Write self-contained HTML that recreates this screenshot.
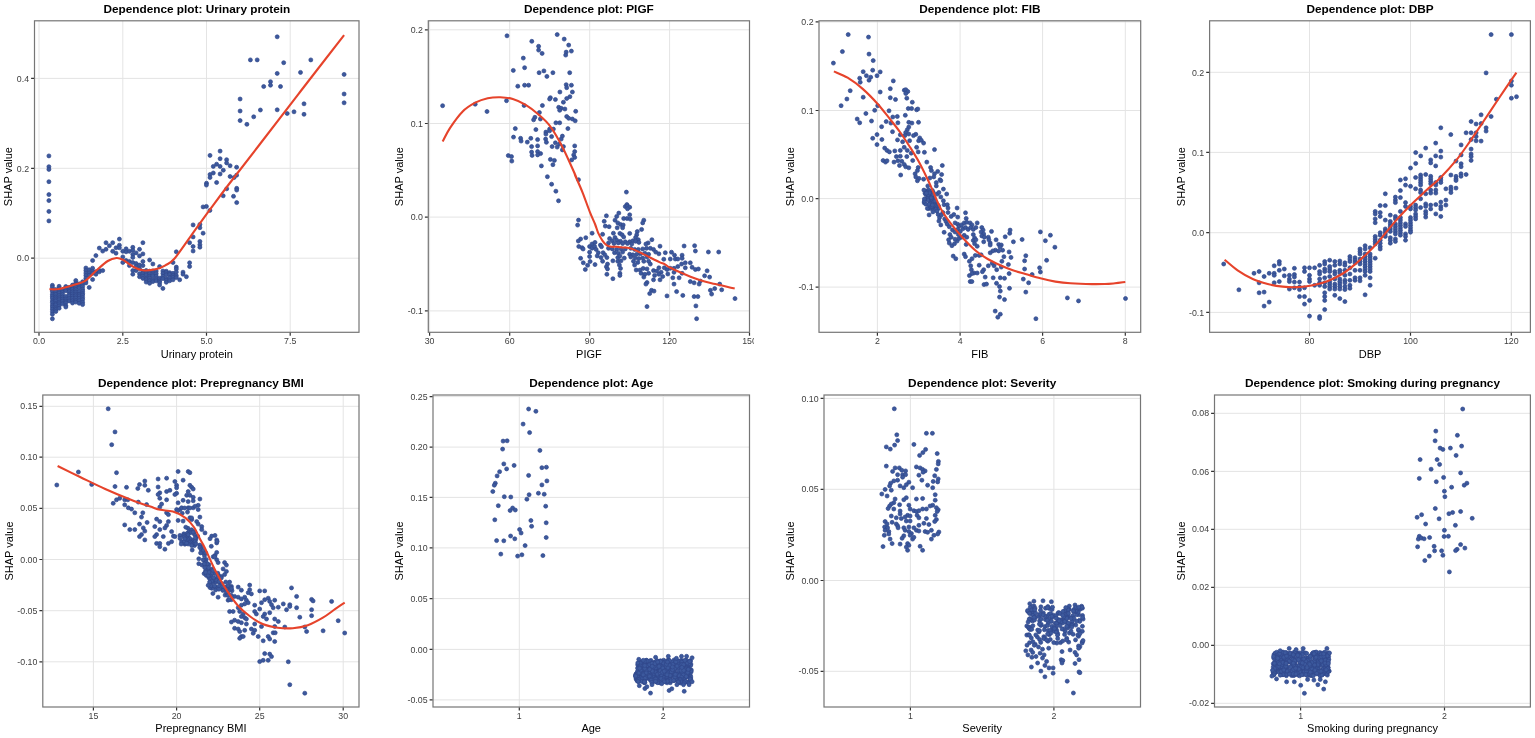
<!DOCTYPE html>
<html lang="en"><head><meta charset="utf-8"><title>SHAP dependence plots</title>
<style>
html,body{margin:0;padding:0;background:#fff}
svg{display:block}
.t{font-family:"Liberation Sans",Arial,sans-serif;font-weight:bold;font-size:11.8px;fill:#000;text-anchor:middle}
.a{font-family:"Liberation Sans",Arial,sans-serif;font-size:11px;fill:#000;text-anchor:middle}
.k{font-family:"Liberation Sans",Arial,sans-serif;font-size:8.8px;fill:#404040}
.g{stroke:#e4e4e4;stroke-width:1;fill:none}
.f{stroke:#767676;stroke-width:1.2;fill:none}
.m{stroke:#333;stroke-width:1.2;fill:none}
.p{fill:#3c599d;stroke:#31488b;stroke-width:.7}
.c{stroke:#e6432b;stroke-width:2.1;fill:none;stroke-linecap:butt;stroke-linejoin:round}
</style></head>
<body>
<svg width="1535" height="738" viewBox="0 0 1535 738">
<rect width="1535" height="738" fill="#fff"/>
<defs><clipPath id="cp"><rect x="0" y="0" width="754" height="738"/></clipPath></defs>
<g id="panel1">
<text class="t" x="196.8" y="12.6">Dependence plot: Urinary protein</text>
<path class="g" d="M39.0 20.8V332.3M122.8 20.8V332.3M206.5 20.8V332.3M290.2 20.8V332.3M34.5 78.4H359.0M34.5 168.3H359.0M34.5 258.2H359.0"/>
<g class="p"><circle cx="48.9" cy="155.9" r="2"/><circle cx="48.9" cy="166.7" r="2"/><circle cx="48.9" cy="169.4" r="2"/><circle cx="48.9" cy="181.7" r="2"/><circle cx="277.2" cy="36.8" r="2"/><circle cx="250.4" cy="59.9" r="2"/><circle cx="257.2" cy="59.9" r="2"/><circle cx="283.7" cy="62.7" r="2"/><circle cx="310.8" cy="59.9" r="2"/><circle cx="277.2" cy="73.4" r="2"/><circle cx="300.5" cy="72.4" r="2"/><circle cx="344.1" cy="74.4" r="2"/><circle cx="270.5" cy="81.7" r="2"/><circle cx="270.5" cy="85.2" r="2"/><circle cx="263.7" cy="86.5" r="2"/><circle cx="280.5" cy="86.5" r="2"/><circle cx="344.1" cy="94.0" r="2"/><circle cx="344.1" cy="102.8" r="2"/><circle cx="240.1" cy="99.0" r="2"/><circle cx="304.0" cy="103.8" r="2"/><circle cx="240.1" cy="111.0" r="2"/><circle cx="260.4" cy="110.0" r="2"/><circle cx="277.2" cy="109.8" r="2"/><circle cx="287.2" cy="113.5" r="2"/><circle cx="294.0" cy="111.8" r="2"/><circle cx="304.0" cy="114.3" r="2"/><circle cx="253.7" cy="116.8" r="2"/><circle cx="240.1" cy="120.6" r="2"/><circle cx="246.9" cy="124.3" r="2"/><circle cx="220.1" cy="151.1" r="2"/><circle cx="210.0" cy="155.4" r="2"/><circle cx="220.1" cy="158.7" r="2"/><circle cx="226.6" cy="159.7" r="2"/><circle cx="216.6" cy="164.2" r="2"/><circle cx="213.3" cy="166.4" r="2"/><circle cx="220.1" cy="166.4" r="2"/><circle cx="226.6" cy="162.9" r="2"/><circle cx="230.1" cy="165.7" r="2"/><circle cx="236.6" cy="167.2" r="2"/><circle cx="223.3" cy="170.2" r="2"/><circle cx="213.3" cy="173.0" r="2"/><circle cx="210.0" cy="174.5" r="2"/><circle cx="220.1" cy="174.0" r="2"/><circle cx="230.1" cy="176.5" r="2"/><circle cx="236.6" cy="175.2" r="2"/><circle cx="210.0" cy="177.5" r="2"/><circle cx="234.1" cy="177.5" r="2"/><circle cx="216.6" cy="182.5" r="2"/><circle cx="206.5" cy="183.2" r="2"/><circle cx="48.9" cy="194.6" r="2"/><circle cx="48.9" cy="200.6" r="2"/><circle cx="48.9" cy="211.4" r="2"/><circle cx="48.9" cy="220.9" r="2"/><circle cx="52.4" cy="285.3" r="2"/><circle cx="52.4" cy="287.3" r="2"/><circle cx="52.4" cy="290.0" r="2"/><circle cx="52.4" cy="291.6" r="2"/><circle cx="52.4" cy="294.3" r="2"/><circle cx="52.4" cy="296.3" r="2"/><circle cx="52.4" cy="298.2" r="2"/><circle cx="52.4" cy="300.8" r="2"/><circle cx="52.4" cy="302.6" r="2"/><circle cx="52.4" cy="305.1" r="2"/><circle cx="52.4" cy="307.0" r="2"/><circle cx="52.4" cy="309.2" r="2"/><circle cx="52.4" cy="311.7" r="2"/><circle cx="52.4" cy="314.3" r="2"/><circle cx="52.4" cy="318.8" r="2"/><circle cx="55.8" cy="289.6" r="2"/><circle cx="55.8" cy="291.8" r="2"/><circle cx="55.8" cy="294.4" r="2"/><circle cx="55.8" cy="296.9" r="2"/><circle cx="55.8" cy="298.8" r="2"/><circle cx="55.8" cy="300.8" r="2"/><circle cx="55.8" cy="303.6" r="2"/><circle cx="55.8" cy="304.8" r="2"/><circle cx="55.8" cy="307.8" r="2"/><circle cx="55.8" cy="309.5" r="2"/><circle cx="55.8" cy="311.5" r="2"/><circle cx="59.1" cy="286.3" r="2"/><circle cx="59.1" cy="288.7" r="2"/><circle cx="59.1" cy="291.4" r="2"/><circle cx="59.1" cy="292.9" r="2"/><circle cx="59.1" cy="295.5" r="2"/><circle cx="59.1" cy="297.8" r="2"/><circle cx="59.1" cy="299.7" r="2"/><circle cx="59.1" cy="302.1" r="2"/><circle cx="59.1" cy="303.8" r="2"/><circle cx="59.1" cy="306.0" r="2"/><circle cx="59.1" cy="308.3" r="2"/><circle cx="62.5" cy="290.5" r="2"/><circle cx="62.5" cy="292.4" r="2"/><circle cx="62.5" cy="294.5" r="2"/><circle cx="62.5" cy="297.0" r="2"/><circle cx="62.5" cy="299.1" r="2"/><circle cx="62.5" cy="301.1" r="2"/><circle cx="62.5" cy="303.8" r="2"/><circle cx="65.8" cy="286.5" r="2"/><circle cx="65.8" cy="288.2" r="2"/><circle cx="65.8" cy="290.7" r="2"/><circle cx="65.8" cy="296.4" r="2"/><circle cx="65.8" cy="299.0" r="2"/><circle cx="65.8" cy="301.0" r="2"/><circle cx="65.8" cy="302.8" r="2"/><circle cx="65.8" cy="305.7" r="2"/><circle cx="65.8" cy="307.0" r="2"/><circle cx="69.2" cy="287.4" r="2"/><circle cx="69.2" cy="289.9" r="2"/><circle cx="69.2" cy="291.5" r="2"/><circle cx="69.2" cy="294.1" r="2"/><circle cx="69.2" cy="295.8" r="2"/><circle cx="69.2" cy="298.6" r="2"/><circle cx="69.2" cy="300.9" r="2"/><circle cx="72.5" cy="285.1" r="2"/><circle cx="72.5" cy="287.6" r="2"/><circle cx="72.5" cy="289.2" r="2"/><circle cx="72.5" cy="291.8" r="2"/><circle cx="72.5" cy="293.9" r="2"/><circle cx="72.5" cy="296.1" r="2"/><circle cx="72.5" cy="298.2" r="2"/><circle cx="72.5" cy="300.7" r="2"/><circle cx="72.5" cy="303.0" r="2"/><circle cx="75.8" cy="280.5" r="2"/><circle cx="75.8" cy="282.9" r="2"/><circle cx="75.8" cy="284.5" r="2"/><circle cx="75.8" cy="287.4" r="2"/><circle cx="75.8" cy="289.5" r="2"/><circle cx="75.8" cy="292.0" r="2"/><circle cx="75.8" cy="294.1" r="2"/><circle cx="75.8" cy="295.7" r="2"/><circle cx="75.8" cy="298.0" r="2"/><circle cx="75.8" cy="300.5" r="2"/><circle cx="75.8" cy="302.1" r="2"/><circle cx="79.2" cy="283.8" r="2"/><circle cx="79.2" cy="285.7" r="2"/><circle cx="79.2" cy="287.8" r="2"/><circle cx="79.2" cy="291.5" r="2"/><circle cx="79.2" cy="294.4" r="2"/><circle cx="79.2" cy="296.0" r="2"/><circle cx="79.2" cy="298.3" r="2"/><circle cx="79.2" cy="300.6" r="2"/><circle cx="79.2" cy="303.3" r="2"/><circle cx="82.6" cy="281.8" r="2"/><circle cx="82.6" cy="284.3" r="2"/><circle cx="82.6" cy="286.6" r="2"/><circle cx="82.6" cy="289.2" r="2"/><circle cx="82.6" cy="291.3" r="2"/><circle cx="82.6" cy="293.5" r="2"/><circle cx="82.6" cy="295.1" r="2"/><circle cx="82.6" cy="297.5" r="2"/><circle cx="82.6" cy="299.6" r="2"/><circle cx="82.6" cy="302.3" r="2"/><circle cx="82.6" cy="304.6" r="2"/><circle cx="85.9" cy="268.0" r="2"/><circle cx="85.9" cy="270.5" r="2"/><circle cx="85.9" cy="273.1" r="2"/><circle cx="85.9" cy="275.5" r="2"/><circle cx="85.9" cy="278.3" r="2"/><circle cx="85.9" cy="280.9" r="2"/><circle cx="85.9" cy="282.9" r="2"/><circle cx="89.2" cy="269.8" r="2"/><circle cx="89.2" cy="273.0" r="2"/><circle cx="89.2" cy="275.3" r="2"/><circle cx="89.2" cy="287.4" r="2"/><circle cx="92.6" cy="260.5" r="2"/><circle cx="92.6" cy="268.2" r="2"/><circle cx="92.6" cy="271.3" r="2"/><circle cx="92.6" cy="273.3" r="2"/><circle cx="92.6" cy="279.5" r="2"/><circle cx="95.9" cy="255.6" r="2"/><circle cx="95.9" cy="271.7" r="2"/><circle cx="95.9" cy="274.3" r="2"/><circle cx="99.3" cy="248.1" r="2"/><circle cx="99.3" cy="270.4" r="2"/><circle cx="99.3" cy="271.8" r="2"/><circle cx="102.7" cy="251.1" r="2"/><circle cx="102.7" cy="270.6" r="2"/><circle cx="106.0" cy="242.7" r="2"/><circle cx="106.0" cy="249.3" r="2"/><circle cx="109.4" cy="245.7" r="2"/><circle cx="112.7" cy="242.7" r="2"/><circle cx="112.7" cy="251.3" r="2"/><circle cx="116.0" cy="247.8" r="2"/><circle cx="116.0" cy="253.2" r="2"/><circle cx="119.4" cy="239.1" r="2"/><circle cx="119.4" cy="245.2" r="2"/><circle cx="119.4" cy="247.8" r="2"/><circle cx="122.8" cy="251.3" r="2"/><circle cx="122.8" cy="256.9" r="2"/><circle cx="122.8" cy="262.5" r="2"/><circle cx="126.1" cy="248.8" r="2"/><circle cx="126.1" cy="251.8" r="2"/><circle cx="126.1" cy="260.5" r="2"/><circle cx="129.4" cy="251.3" r="2"/><circle cx="129.4" cy="261.5" r="2"/><circle cx="129.4" cy="265.6" r="2"/><circle cx="132.8" cy="247.3" r="2"/><circle cx="132.8" cy="250.3" r="2"/><circle cx="132.8" cy="254.4" r="2"/><circle cx="132.8" cy="257.4" r="2"/><circle cx="132.8" cy="262.5" r="2"/><circle cx="132.8" cy="270.6" r="2"/><circle cx="132.8" cy="274.2" r="2"/><circle cx="136.1" cy="252.9" r="2"/><circle cx="136.1" cy="263.5" r="2"/><circle cx="136.1" cy="266.6" r="2"/><circle cx="136.1" cy="270.6" r="2"/><circle cx="139.5" cy="249.3" r="2"/><circle cx="139.5" cy="255.9" r="2"/><circle cx="139.5" cy="265.1" r="2"/><circle cx="139.5" cy="268.6" r="2"/><circle cx="139.5" cy="273.7" r="2"/><circle cx="139.5" cy="276.7" r="2"/><circle cx="142.9" cy="242.7" r="2"/><circle cx="142.9" cy="253.9" r="2"/><circle cx="142.9" cy="261.5" r="2"/><circle cx="142.9" cy="265.6" r="2"/><circle cx="142.9" cy="271.3" r="2"/><circle cx="142.9" cy="273.5" r="2"/><circle cx="142.9" cy="276.1" r="2"/><circle cx="142.9" cy="278.4" r="2"/><circle cx="146.2" cy="270.5" r="2"/><circle cx="146.2" cy="272.9" r="2"/><circle cx="146.2" cy="274.9" r="2"/><circle cx="146.2" cy="278.2" r="2"/><circle cx="146.2" cy="279.7" r="2"/><circle cx="146.2" cy="282.1" r="2"/><circle cx="149.6" cy="260.0" r="2"/><circle cx="149.6" cy="271.2" r="2"/><circle cx="149.6" cy="273.5" r="2"/><circle cx="149.6" cy="276.3" r="2"/><circle cx="149.6" cy="278.2" r="2"/><circle cx="149.6" cy="280.6" r="2"/><circle cx="149.6" cy="283.3" r="2"/><circle cx="152.9" cy="264.0" r="2"/><circle cx="152.9" cy="271.0" r="2"/><circle cx="152.9" cy="273.9" r="2"/><circle cx="152.9" cy="275.8" r="2"/><circle cx="152.9" cy="279.6" r="2"/><circle cx="152.9" cy="281.6" r="2"/><circle cx="156.2" cy="271.1" r="2"/><circle cx="156.2" cy="273.7" r="2"/><circle cx="156.2" cy="276.3" r="2"/><circle cx="156.2" cy="278.8" r="2"/><circle cx="156.2" cy="280.8" r="2"/><circle cx="159.6" cy="266.6" r="2"/><circle cx="159.6" cy="278.3" r="2"/><circle cx="159.6" cy="281.0" r="2"/><circle cx="159.6" cy="282.6" r="2"/><circle cx="159.6" cy="285.0" r="2"/><circle cx="162.9" cy="271.0" r="2"/><circle cx="162.9" cy="273.5" r="2"/><circle cx="162.9" cy="276.3" r="2"/><circle cx="162.9" cy="278.6" r="2"/><circle cx="162.9" cy="288.4" r="2"/><circle cx="166.3" cy="271.2" r="2"/><circle cx="166.3" cy="272.5" r="2"/><circle cx="166.3" cy="274.7" r="2"/><circle cx="166.3" cy="278.7" r="2"/><circle cx="166.3" cy="280.4" r="2"/><circle cx="166.3" cy="282.3" r="2"/><circle cx="169.7" cy="272.7" r="2"/><circle cx="169.7" cy="274.3" r="2"/><circle cx="169.7" cy="277.6" r="2"/><circle cx="169.7" cy="280.8" r="2"/><circle cx="173.0" cy="262.5" r="2"/><circle cx="173.0" cy="273.3" r="2"/><circle cx="173.0" cy="275.4" r="2"/><circle cx="173.0" cy="277.2" r="2"/><circle cx="173.0" cy="279.8" r="2"/><circle cx="176.3" cy="251.8" r="2"/><circle cx="176.3" cy="267.1" r="2"/><circle cx="176.3" cy="269.1" r="2"/><circle cx="176.3" cy="272.1" r="2"/><circle cx="176.3" cy="275.6" r="2"/><circle cx="176.3" cy="277.6" r="2"/><circle cx="179.7" cy="279.8" r="2"/><circle cx="183.0" cy="272.2" r="2"/><circle cx="183.0" cy="274.2" r="2"/><circle cx="186.4" cy="276.7" r="2"/><circle cx="189.6" cy="262.8" r="2"/><circle cx="189.6" cy="266.5" r="2"/><circle cx="189.6" cy="242.7" r="2"/><circle cx="193.1" cy="246.5" r="2"/><circle cx="193.1" cy="251.0" r="2"/><circle cx="193.1" cy="236.9" r="2"/><circle cx="193.1" cy="224.9" r="2"/><circle cx="199.9" cy="224.4" r="2"/><circle cx="199.9" cy="227.7" r="2"/><circle cx="203.1" cy="233.2" r="2"/><circle cx="199.9" cy="241.4" r="2"/><circle cx="199.9" cy="244.7" r="2"/><circle cx="199.9" cy="247.2" r="2"/><circle cx="203.1" cy="206.9" r="2"/><circle cx="206.4" cy="206.4" r="2"/><circle cx="209.9" cy="210.4" r="2"/><circle cx="206.4" cy="185.1" r="2"/><circle cx="223.2" cy="195.8" r="2"/><circle cx="226.7" cy="188.8" r="2"/><circle cx="233.5" cy="196.3" r="2"/><circle cx="236.7" cy="188.3" r="2"/><circle cx="236.7" cy="190.1" r="2"/><circle cx="236.7" cy="202.6" r="2"/></g>
<path class="c" d="M49.4 289.3 C51.0 289.2 55.0 289.7 58.9 289.0 C62.8 288.3 68.3 286.7 72.7 285.3 C77.1 283.9 81.2 283.3 85.2 280.8 C89.2 278.3 92.7 273.6 96.5 270.3 C100.3 267.0 104.5 263.1 107.8 261.0 C111.1 258.9 114.0 258.2 116.5 258.0 C119.0 257.8 120.1 258.3 122.8 259.7 C125.5 261.1 129.5 264.7 132.8 266.5 C136.2 268.3 139.1 269.8 142.9 270.3 C146.7 270.8 151.7 270.1 155.4 269.3 C159.2 268.5 162.2 267.2 165.4 265.3 C168.6 263.4 170.4 263.3 174.8 258.2 C179.2 253.0 186.2 242.5 192.0 234.4 C197.8 226.3 203.8 217.8 209.9 209.6 C216.0 201.4 220.0 195.9 228.3 185.0 C236.7 174.1 248.1 159.5 260.0 144.0 C271.9 128.5 286.0 110.2 300.0 92.0 C314.0 73.8 336.8 44.6 344.1 35.1"/>
<rect class="f" x="34.5" y="20.8" width="324.5" height="311.5"/>
<path class="m" d="M39.0 332.8v2.9M122.8 332.8v2.9M206.5 332.8v2.9M290.2 332.8v2.9M34.0 78.4h-2.9M34.0 168.3h-2.9M34.0 258.2h-2.9"/>
<text class="k" text-anchor="middle" x="39.0" y="344.2">0.0</text>
<text class="k" text-anchor="middle" x="122.8" y="344.2">2.5</text>
<text class="k" text-anchor="middle" x="206.5" y="344.2">5.0</text>
<text class="k" text-anchor="middle" x="290.2" y="344.2">7.5</text>
<text class="k" text-anchor="end" x="29.1" y="81.6">0.4</text>
<text class="k" text-anchor="end" x="29.1" y="171.5">0.2</text>
<text class="k" text-anchor="end" x="29.1" y="261.3">0.0</text>
<text class="a" x="196.8" y="357.5">Urinary protein</text>
<text class="a" transform="translate(12.4 176.6) rotate(-90)">SHAP value</text>
</g>
<g id="panel2">
<text class="t" x="588.9" y="12.6">Dependence plot: PIGF</text>
<path class="g" d="M429.6 20.8V332.3M509.7 20.8V332.3M589.7 20.8V332.3M669.6 20.8V332.3M428.3 29.8H749.5M428.3 123.5H749.5M428.3 217.1H749.5M428.3 310.9H749.5"/>
<g class="p"><circle cx="442.6" cy="105.7" r="2"/><circle cx="475.2" cy="104.2" r="2"/><circle cx="487.0" cy="111.5" r="2"/><circle cx="507.0" cy="35.8" r="2"/><circle cx="506.5" cy="100.7" r="2"/><circle cx="513.3" cy="70.4" r="2"/><circle cx="517.8" cy="86.2" r="2"/><circle cx="523.3" cy="58.1" r="2"/><circle cx="524.6" cy="67.7" r="2"/><circle cx="524.6" cy="85.2" r="2"/><circle cx="528.6" cy="85.2" r="2"/><circle cx="524.1" cy="105.5" r="2"/><circle cx="531.8" cy="41.3" r="2"/><circle cx="538.6" cy="46.3" r="2"/><circle cx="538.6" cy="50.1" r="2"/><circle cx="542.1" cy="53.4" r="2"/><circle cx="539.1" cy="72.7" r="2"/><circle cx="543.9" cy="70.9" r="2"/><circle cx="546.9" cy="76.4" r="2"/><circle cx="552.9" cy="72.7" r="2"/><circle cx="557.2" cy="34.6" r="2"/><circle cx="564.2" cy="39.1" r="2"/><circle cx="568.7" cy="45.1" r="2"/><circle cx="571.4" cy="51.1" r="2"/><circle cx="566.2" cy="52.1" r="2"/><circle cx="565.7" cy="55.1" r="2"/><circle cx="569.7" cy="72.7" r="2"/><circle cx="566.2" cy="84.7" r="2"/><circle cx="571.4" cy="85.2" r="2"/><circle cx="566.7" cy="87.7" r="2"/><circle cx="559.9" cy="92.0" r="2"/><circle cx="572.4" cy="92.0" r="2"/><circle cx="569.9" cy="96.7" r="2"/><circle cx="566.7" cy="98.5" r="2"/><circle cx="563.4" cy="102.2" r="2"/><circle cx="550.4" cy="97.7" r="2"/><circle cx="549.6" cy="99.0" r="2"/><circle cx="555.4" cy="99.5" r="2"/><circle cx="542.4" cy="105.5" r="2"/><circle cx="558.7" cy="107.3" r="2"/><circle cx="561.2" cy="108.3" r="2"/><circle cx="559.7" cy="110.3" r="2"/><circle cx="564.9" cy="109.0" r="2"/><circle cx="575.7" cy="111.3" r="2"/><circle cx="539.4" cy="112.5" r="2"/><circle cx="534.9" cy="117.3" r="2"/><circle cx="533.6" cy="119.8" r="2"/><circle cx="540.4" cy="119.0" r="2"/><circle cx="566.7" cy="116.5" r="2"/><circle cx="568.7" cy="118.3" r="2"/><circle cx="572.4" cy="119.0" r="2"/><circle cx="575.2" cy="120.8" r="2"/><circle cx="555.9" cy="122.8" r="2"/><circle cx="559.7" cy="122.8" r="2"/><circle cx="515.3" cy="128.6" r="2"/><circle cx="535.9" cy="129.6" r="2"/><circle cx="549.6" cy="129.1" r="2"/><circle cx="553.4" cy="129.1" r="2"/><circle cx="567.9" cy="128.6" r="2"/><circle cx="513.5" cy="137.1" r="2"/><circle cx="520.6" cy="138.3" r="2"/><circle cx="521.1" cy="141.1" r="2"/><circle cx="527.3" cy="142.1" r="2"/><circle cx="530.8" cy="138.3" r="2"/><circle cx="537.6" cy="139.6" r="2"/><circle cx="545.9" cy="132.1" r="2"/><circle cx="545.9" cy="134.1" r="2"/><circle cx="549.6" cy="130.8" r="2"/><circle cx="551.6" cy="136.6" r="2"/><circle cx="562.4" cy="136.1" r="2"/><circle cx="561.2" cy="139.1" r="2"/><circle cx="545.6" cy="139.1" r="2"/><circle cx="546.4" cy="142.3" r="2"/><circle cx="555.4" cy="142.8" r="2"/><circle cx="559.4" cy="144.1" r="2"/><circle cx="531.6" cy="146.6" r="2"/><circle cx="537.6" cy="145.9" r="2"/><circle cx="552.1" cy="146.6" r="2"/><circle cx="557.2" cy="147.1" r="2"/><circle cx="563.4" cy="146.6" r="2"/><circle cx="574.7" cy="145.9" r="2"/><circle cx="562.4" cy="149.9" r="2"/><circle cx="531.6" cy="152.1" r="2"/><circle cx="537.6" cy="151.6" r="2"/><circle cx="540.6" cy="153.6" r="2"/><circle cx="532.1" cy="155.4" r="2"/><circle cx="537.6" cy="154.9" r="2"/><circle cx="574.7" cy="151.6" r="2"/><circle cx="573.7" cy="154.9" r="2"/><circle cx="574.7" cy="157.4" r="2"/><circle cx="571.7" cy="159.9" r="2"/><circle cx="508.3" cy="155.6" r="2"/><circle cx="511.5" cy="156.6" r="2"/><circle cx="511.8" cy="161.1" r="2"/><circle cx="550.4" cy="159.4" r="2"/><circle cx="554.4" cy="160.4" r="2"/><circle cx="552.9" cy="164.7" r="2"/><circle cx="541.4" cy="165.9" r="2"/><circle cx="547.4" cy="176.7" r="2"/><circle cx="551.6" cy="184.2" r="2"/><circle cx="555.9" cy="191.2" r="2"/><circle cx="578.5" cy="179.7" r="2"/><circle cx="558.5" cy="200.8" r="2"/><circle cx="578.5" cy="220.1" r="2"/><circle cx="577.6" cy="225.1" r="2"/><circle cx="585.8" cy="237.7" r="2"/><circle cx="580.6" cy="239.0" r="2"/><circle cx="578.3" cy="241.0" r="2"/><circle cx="578.8" cy="246.5" r="2"/><circle cx="582.1" cy="247.7" r="2"/><circle cx="583.1" cy="249.0" r="2"/><circle cx="580.6" cy="258.3" r="2"/><circle cx="583.3" cy="262.8" r="2"/><circle cx="585.3" cy="269.5" r="2"/><circle cx="587.6" cy="265.3" r="2"/><circle cx="590.1" cy="261.5" r="2"/><circle cx="592.1" cy="233.2" r="2"/><circle cx="592.1" cy="244.0" r="2"/><circle cx="589.6" cy="246.5" r="2"/><circle cx="592.1" cy="248.2" r="2"/><circle cx="594.6" cy="246.5" r="2"/><circle cx="589.6" cy="252.2" r="2"/><circle cx="589.6" cy="256.5" r="2"/><circle cx="626.4" cy="192.1" r="2"/><circle cx="626.9" cy="204.6" r="2"/><circle cx="665.3" cy="252.7" r="2"/><circle cx="671.5" cy="252.2" r="2"/><circle cx="674.5" cy="255.2" r="2"/><circle cx="682.1" cy="255.2" r="2"/><circle cx="684.1" cy="246.0" r="2"/><circle cx="694.6" cy="245.7" r="2"/><circle cx="695.4" cy="251.0" r="2"/><circle cx="708.4" cy="252.0" r="2"/><circle cx="718.7" cy="252.0" r="2"/><circle cx="670.3" cy="259.0" r="2"/><circle cx="675.3" cy="259.0" r="2"/><circle cx="677.8" cy="259.0" r="2"/><circle cx="682.1" cy="258.3" r="2"/><circle cx="685.3" cy="262.8" r="2"/><circle cx="690.3" cy="262.8" r="2"/><circle cx="681.6" cy="264.0" r="2"/><circle cx="677.8" cy="266.5" r="2"/><circle cx="667.0" cy="269.5" r="2"/><circle cx="670.3" cy="268.3" r="2"/><circle cx="674.0" cy="268.3" r="2"/><circle cx="685.3" cy="267.8" r="2"/><circle cx="692.1" cy="267.3" r="2"/><circle cx="695.4" cy="269.5" r="2"/><circle cx="698.4" cy="269.0" r="2"/><circle cx="707.1" cy="270.8" r="2"/><circle cx="667.8" cy="274.0" r="2"/><circle cx="674.0" cy="272.3" r="2"/><circle cx="682.1" cy="273.3" r="2"/><circle cx="672.8" cy="277.8" r="2"/><circle cx="679.1" cy="277.8" r="2"/><circle cx="704.6" cy="275.8" r="2"/><circle cx="709.6" cy="277.1" r="2"/><circle cx="674.0" cy="284.1" r="2"/><circle cx="690.3" cy="281.6" r="2"/><circle cx="694.1" cy="282.8" r="2"/><circle cx="700.4" cy="281.1" r="2"/><circle cx="699.1" cy="284.1" r="2"/><circle cx="719.7" cy="284.1" r="2"/><circle cx="721.7" cy="289.8" r="2"/><circle cx="714.7" cy="288.6" r="2"/><circle cx="710.4" cy="290.3" r="2"/><circle cx="711.6" cy="294.1" r="2"/><circle cx="651.5" cy="290.3" r="2"/><circle cx="654.0" cy="291.1" r="2"/><circle cx="649.7" cy="293.6" r="2"/><circle cx="676.6" cy="291.6" r="2"/><circle cx="667.0" cy="295.9" r="2"/><circle cx="682.8" cy="295.4" r="2"/><circle cx="694.1" cy="296.6" r="2"/><circle cx="697.9" cy="296.6" r="2"/><circle cx="647.0" cy="306.6" r="2"/><circle cx="695.9" cy="305.9" r="2"/><circle cx="696.6" cy="318.7" r="2"/><circle cx="735.0" cy="298.6" r="2"/><circle cx="625.3" cy="206.6" r="2"/><circle cx="627.5" cy="206.1" r="2"/><circle cx="629.7" cy="207.2" r="2"/><circle cx="627.5" cy="208.8" r="2"/><circle cx="618.8" cy="213.1" r="2"/><circle cx="606.4" cy="215.8" r="2"/><circle cx="629.7" cy="214.8" r="2"/><circle cx="616.7" cy="216.4" r="2"/><circle cx="623.7" cy="218.5" r="2"/><circle cx="627.0" cy="218.5" r="2"/><circle cx="630.2" cy="219.1" r="2"/><circle cx="604.2" cy="221.3" r="2"/><circle cx="615.0" cy="220.2" r="2"/><circle cx="643.8" cy="220.2" r="2"/><circle cx="642.7" cy="222.9" r="2"/><circle cx="617.8" cy="222.9" r="2"/><circle cx="620.5" cy="224.5" r="2"/><circle cx="623.2" cy="225.0" r="2"/><circle cx="605.3" cy="226.1" r="2"/><circle cx="609.1" cy="226.7" r="2"/><circle cx="617.2" cy="227.8" r="2"/><circle cx="622.6" cy="227.8" r="2"/><circle cx="641.6" cy="229.4" r="2"/><circle cx="637.3" cy="231.5" r="2"/><circle cx="602.6" cy="234.3" r="2"/><circle cx="613.4" cy="233.2" r="2"/><circle cx="619.9" cy="233.4" r="2"/><circle cx="622.1" cy="234.8" r="2"/><circle cx="629.7" cy="233.4" r="2"/><circle cx="623.7" cy="237.0" r="2"/><circle cx="636.7" cy="234.8" r="2"/><circle cx="635.6" cy="237.5" r="2"/><circle cx="609.6" cy="238.6" r="2"/><circle cx="615.0" cy="237.5" r="2"/><circle cx="638.3" cy="239.7" r="2"/><circle cx="651.9" cy="239.7" r="2"/><circle cx="612.3" cy="240.8" r="2"/><circle cx="616.7" cy="240.2" r="2"/><circle cx="620.5" cy="241.3" r="2"/><circle cx="625.3" cy="241.8" r="2"/><circle cx="629.7" cy="241.8" r="2"/><circle cx="632.9" cy="240.8" r="2"/><circle cx="635.6" cy="241.3" r="2"/><circle cx="638.9" cy="242.4" r="2"/><circle cx="648.1" cy="242.9" r="2"/><circle cx="645.9" cy="244.0" r="2"/><circle cx="608.5" cy="242.9" r="2"/><circle cx="614.0" cy="243.5" r="2"/><circle cx="618.3" cy="242.9" r="2"/><circle cx="622.6" cy="243.5" r="2"/><circle cx="627.5" cy="243.5" r="2"/><circle cx="631.8" cy="244.0" r="2"/><circle cx="595.0" cy="242.4" r="2"/><circle cx="600.4" cy="245.1" r="2"/><circle cx="601.5" cy="246.7" r="2"/><circle cx="660.0" cy="246.2" r="2"/><circle cx="608.5" cy="248.3" r="2"/><circle cx="612.3" cy="248.9" r="2"/><circle cx="616.7" cy="249.4" r="2"/><circle cx="621.0" cy="248.9" r="2"/><circle cx="625.3" cy="248.9" r="2"/><circle cx="630.8" cy="248.3" r="2"/><circle cx="634.6" cy="249.4" r="2"/><circle cx="638.3" cy="249.4" r="2"/><circle cx="642.7" cy="248.9" r="2"/><circle cx="646.5" cy="248.3" r="2"/><circle cx="650.3" cy="248.3" r="2"/><circle cx="653.5" cy="249.4" r="2"/><circle cx="596.1" cy="249.4" r="2"/><circle cx="598.3" cy="252.7" r="2"/><circle cx="603.1" cy="252.7" r="2"/><circle cx="604.8" cy="254.8" r="2"/><circle cx="655.7" cy="252.1" r="2"/><circle cx="658.9" cy="253.8" r="2"/><circle cx="614.5" cy="252.7" r="2"/><circle cx="618.3" cy="253.2" r="2"/><circle cx="622.6" cy="252.1" r="2"/><circle cx="629.7" cy="254.3" r="2"/><circle cx="632.9" cy="254.8" r="2"/><circle cx="636.7" cy="254.3" r="2"/><circle cx="640.5" cy="253.8" r="2"/><circle cx="644.8" cy="253.2" r="2"/><circle cx="648.6" cy="254.3" r="2"/><circle cx="597.2" cy="255.9" r="2"/><circle cx="601.0" cy="257.6" r="2"/><circle cx="606.9" cy="257.6" r="2"/><circle cx="617.8" cy="257.6" r="2"/><circle cx="619.9" cy="255.9" r="2"/><circle cx="624.3" cy="258.1" r="2"/><circle cx="630.8" cy="257.0" r="2"/><circle cx="635.1" cy="258.1" r="2"/><circle cx="638.9" cy="258.6" r="2"/><circle cx="642.7" cy="258.1" r="2"/><circle cx="647.0" cy="257.0" r="2"/><circle cx="663.8" cy="259.2" r="2"/><circle cx="602.6" cy="261.3" r="2"/><circle cx="612.9" cy="260.8" r="2"/><circle cx="617.8" cy="261.3" r="2"/><circle cx="621.0" cy="260.8" r="2"/><circle cx="633.5" cy="261.3" r="2"/><circle cx="637.8" cy="262.4" r="2"/><circle cx="643.8" cy="261.3" r="2"/><circle cx="648.6" cy="261.3" r="2"/><circle cx="650.3" cy="264.1" r="2"/><circle cx="595.0" cy="264.6" r="2"/><circle cx="607.5" cy="264.1" r="2"/><circle cx="606.4" cy="266.8" r="2"/><circle cx="619.4" cy="265.1" r="2"/><circle cx="620.5" cy="268.4" r="2"/><circle cx="634.6" cy="265.1" r="2"/><circle cx="607.5" cy="268.9" r="2"/><circle cx="636.2" cy="270.0" r="2"/><circle cx="640.0" cy="270.0" r="2"/><circle cx="643.2" cy="268.4" r="2"/><circle cx="647.0" cy="268.9" r="2"/><circle cx="658.9" cy="267.8" r="2"/><circle cx="653.5" cy="270.6" r="2"/><circle cx="656.8" cy="271.1" r="2"/><circle cx="661.1" cy="272.2" r="2"/><circle cx="664.3" cy="267.8" r="2"/><circle cx="641.1" cy="273.3" r="2"/><circle cx="644.8" cy="274.3" r="2"/><circle cx="648.6" cy="273.3" r="2"/><circle cx="658.9" cy="274.3" r="2"/><circle cx="654.6" cy="275.4" r="2"/><circle cx="662.7" cy="276.5" r="2"/><circle cx="606.9" cy="274.3" r="2"/><circle cx="619.9" cy="273.3" r="2"/><circle cx="619.9" cy="275.4" r="2"/><circle cx="612.9" cy="278.7" r="2"/><circle cx="643.8" cy="277.1" r="2"/><circle cx="653.5" cy="279.8" r="2"/><circle cx="660.0" cy="279.8" r="2"/><circle cx="647.0" cy="282.5" r="2"/><circle cx="645.9" cy="284.1" r="2"/></g>
<path class="c" d="M442.6 141.6 C443.9 139.3 446.8 132.8 450.1 127.8 C453.5 122.8 458.5 115.7 462.7 111.5 C466.8 107.3 471.0 105.0 475.2 102.7 C479.4 100.5 483.6 99.1 487.7 98.2 C491.9 97.3 496.1 97.1 500.3 97.2 C504.4 97.4 508.6 97.7 512.8 99.0 C517.0 100.2 521.1 102.2 525.3 104.7 C529.5 107.3 533.7 110.4 537.9 114.0 C542.0 117.7 546.2 120.9 550.4 126.6 C554.6 132.2 558.7 139.7 562.9 147.9 C567.1 156.0 573.4 170.9 575.5 175.4 C577.5 180.0 573.9 172.2 575.0 175.0 C576.2 177.9 580.1 186.3 582.6 192.6 C585.1 198.9 588.0 207.4 590.1 212.6 C592.2 217.9 593.6 220.5 595.0 224.0 C596.4 227.4 597.0 230.4 598.3 233.2 C599.5 236.0 601.1 238.7 602.6 240.8 C604.0 242.8 605.5 244.3 606.9 245.3 C608.4 246.3 609.6 246.5 611.3 246.7 C612.9 247.0 614.9 246.7 616.7 246.8 C618.5 246.9 620.3 247.2 622.1 247.4 C623.9 247.5 625.9 247.5 627.5 247.7 C629.1 247.9 630.0 248.0 631.8 248.7 C633.6 249.3 636.0 250.5 638.3 251.6 C640.7 252.7 643.4 254.1 645.9 255.4 C648.5 256.7 651.2 258.0 653.5 259.2 C655.9 260.4 658.1 261.6 660.0 262.4 C661.9 263.3 663.3 263.5 665.0 264.4 C666.7 265.3 666.9 266.1 670.3 267.8 C673.7 269.5 680.3 272.5 685.3 274.5 C690.3 276.6 695.4 278.7 700.4 280.3 C705.4 281.9 709.7 282.7 715.4 284.1 C721.1 285.5 731.5 287.8 734.7 288.6"/>
<rect class="f" x="428.3" y="20.8" width="321.2" height="311.5"/>
<path class="m" d="M429.6 332.8v2.9M509.7 332.8v2.9M589.7 332.8v2.9M669.6 332.8v2.9M749.5 332.8v2.9M427.8 29.8h-2.9M427.8 123.5h-2.9M427.8 217.1h-2.9M427.8 310.9h-2.9"/>
<text class="k" text-anchor="middle" x="429.6" y="344.2">30</text>
<text class="k" text-anchor="middle" x="509.7" y="344.2">60</text>
<text class="k" text-anchor="middle" x="589.7" y="344.2">90</text>
<text class="k" text-anchor="middle" x="669.6" y="344.2">120</text>
<text class="k" text-anchor="middle" x="749.5" y="344.2" clip-path="url(#cp)">150</text>
<text class="k" text-anchor="end" x="422.9" y="33.0">0.2</text>
<text class="k" text-anchor="end" x="422.9" y="126.7">0.1</text>
<text class="k" text-anchor="end" x="422.9" y="220.2">0.0</text>
<text class="k" text-anchor="end" x="422.9" y="314.0">-0.1</text>
<text class="a" x="588.9" y="357.5">PIGF</text>
<text class="a" transform="translate(403.0 176.6) rotate(-90)">SHAP value</text>
</g>
<g id="panel3">
<text class="t" x="979.9" y="12.6">Dependence plot: FIB</text>
<path class="g" d="M877.4 20.8V332.3M960.1 20.8V332.3M1042.6 20.8V332.3M1125.3 20.8V332.3M819.0 21.9H1140.7M819.0 110.5H1140.7M819.0 198.6H1140.7M819.0 287.1H1140.7"/>
<g class="p"><circle cx="833.4" cy="63.1" r="2"/><circle cx="848.2" cy="34.6" r="2"/><circle cx="842.4" cy="51.6" r="2"/><circle cx="868.5" cy="37.1" r="2"/><circle cx="869.0" cy="54.1" r="2"/><circle cx="873.2" cy="60.6" r="2"/><circle cx="872.7" cy="70.2" r="2"/><circle cx="863.2" cy="71.7" r="2"/><circle cx="859.7" cy="78.2" r="2"/><circle cx="860.2" cy="82.2" r="2"/><circle cx="866.4" cy="75.7" r="2"/><circle cx="870.7" cy="77.2" r="2"/><circle cx="869.0" cy="80.2" r="2"/><circle cx="877.0" cy="75.7" r="2"/><circle cx="880.2" cy="71.9" r="2"/><circle cx="850.2" cy="90.7" r="2"/><circle cx="846.9" cy="99.0" r="2"/><circle cx="841.1" cy="105.7" r="2"/><circle cx="863.2" cy="97.2" r="2"/><circle cx="880.2" cy="92.0" r="2"/><circle cx="877.7" cy="105.7" r="2"/><circle cx="874.7" cy="110.3" r="2"/><circle cx="865.9" cy="113.5" r="2"/><circle cx="857.2" cy="119.0" r="2"/><circle cx="859.7" cy="122.8" r="2"/><circle cx="871.5" cy="121.0" r="2"/><circle cx="877.0" cy="134.6" r="2"/><circle cx="872.7" cy="138.3" r="2"/><circle cx="877.0" cy="144.6" r="2"/><circle cx="893.3" cy="80.9" r="2"/><circle cx="890.3" cy="88.7" r="2"/><circle cx="890.3" cy="97.7" r="2"/><circle cx="895.5" cy="99.5" r="2"/><circle cx="889.0" cy="110.8" r="2"/><circle cx="892.8" cy="117.0" r="2"/><circle cx="897.3" cy="116.5" r="2"/><circle cx="904.3" cy="90.2" r="2"/><circle cx="905.8" cy="89.7" r="2"/><circle cx="907.8" cy="91.5" r="2"/><circle cx="905.8" cy="93.5" r="2"/><circle cx="906.8" cy="98.2" r="2"/><circle cx="912.3" cy="102.2" r="2"/><circle cx="908.3" cy="108.5" r="2"/><circle cx="911.6" cy="108.5" r="2"/><circle cx="916.6" cy="109.8" r="2"/><circle cx="917.8" cy="109.0" r="2"/><circle cx="905.3" cy="115.3" r="2"/><circle cx="1022.1" cy="239.5" r="2"/><circle cx="1040.4" cy="231.9" r="2"/><circle cx="1050.4" cy="235.2" r="2"/><circle cx="1045.4" cy="240.7" r="2"/><circle cx="1054.9" cy="247.2" r="2"/><circle cx="1025.8" cy="255.7" r="2"/><circle cx="1024.6" cy="260.8" r="2"/><circle cx="1046.6" cy="260.3" r="2"/><circle cx="1024.6" cy="269.0" r="2"/><circle cx="1039.6" cy="267.8" r="2"/><circle cx="1040.4" cy="272.0" r="2"/><circle cx="1032.1" cy="274.5" r="2"/><circle cx="1004.5" cy="278.3" r="2"/><circle cx="1000.3" cy="277.8" r="2"/><circle cx="993.2" cy="277.8" r="2"/><circle cx="996.5" cy="283.3" r="2"/><circle cx="985.2" cy="277.1" r="2"/><circle cx="984.0" cy="284.6" r="2"/><circle cx="986.5" cy="284.1" r="2"/><circle cx="1023.3" cy="279.1" r="2"/><circle cx="1028.6" cy="282.8" r="2"/><circle cx="999.5" cy="286.6" r="2"/><circle cx="1009.5" cy="288.3" r="2"/><circle cx="1000.3" cy="291.1" r="2"/><circle cx="999.5" cy="297.1" r="2"/><circle cx="1025.8" cy="292.1" r="2"/><circle cx="1004.5" cy="299.6" r="2"/><circle cx="1067.4" cy="297.9" r="2"/><circle cx="1078.5" cy="300.9" r="2"/><circle cx="995.2" cy="311.1" r="2"/><circle cx="1000.3" cy="314.2" r="2"/><circle cx="997.8" cy="317.2" r="2"/><circle cx="1035.9" cy="318.7" r="2"/><circle cx="970.2" cy="281.6" r="2"/><circle cx="971.9" cy="281.6" r="2"/><circle cx="886.2" cy="121.6" r="2"/><circle cx="890.9" cy="123.1" r="2"/><circle cx="897.9" cy="122.8" r="2"/><circle cx="908.8" cy="122.3" r="2"/><circle cx="911.9" cy="123.1" r="2"/><circle cx="918.5" cy="122.3" r="2"/><circle cx="881.6" cy="126.7" r="2"/><circle cx="908.8" cy="127.0" r="2"/><circle cx="907.3" cy="129.7" r="2"/><circle cx="892.5" cy="131.7" r="2"/><circle cx="905.7" cy="132.5" r="2"/><circle cx="900.3" cy="134.8" r="2"/><circle cx="904.9" cy="135.6" r="2"/><circle cx="908.8" cy="134.0" r="2"/><circle cx="915.8" cy="134.3" r="2"/><circle cx="913.5" cy="135.6" r="2"/><circle cx="919.7" cy="137.9" r="2"/><circle cx="881.9" cy="139.5" r="2"/><circle cx="897.5" cy="139.9" r="2"/><circle cx="902.6" cy="141.8" r="2"/><circle cx="909.6" cy="140.7" r="2"/><circle cx="918.6" cy="140.7" r="2"/><circle cx="921.3" cy="140.3" r="2"/><circle cx="923.6" cy="143.1" r="2"/><circle cx="904.2" cy="147.3" r="2"/><circle cx="916.6" cy="147.3" r="2"/><circle cx="884.7" cy="148.1" r="2"/><circle cx="887.0" cy="150.4" r="2"/><circle cx="889.4" cy="151.9" r="2"/><circle cx="894.8" cy="150.9" r="2"/><circle cx="900.3" cy="150.4" r="2"/><circle cx="907.3" cy="150.4" r="2"/><circle cx="911.2" cy="153.2" r="2"/><circle cx="918.2" cy="151.9" r="2"/><circle cx="924.4" cy="152.3" r="2"/><circle cx="934.5" cy="149.6" r="2"/><circle cx="896.4" cy="156.6" r="2"/><circle cx="900.3" cy="156.2" r="2"/><circle cx="906.8" cy="156.6" r="2"/><circle cx="883.1" cy="160.5" r="2"/><circle cx="885.5" cy="162.1" r="2"/><circle cx="887.0" cy="160.8" r="2"/><circle cx="894.0" cy="162.1" r="2"/><circle cx="897.9" cy="160.8" r="2"/><circle cx="901.8" cy="161.3" r="2"/><circle cx="912.7" cy="160.5" r="2"/><circle cx="899.5" cy="165.5" r="2"/><circle cx="904.2" cy="164.4" r="2"/><circle cx="905.7" cy="166.8" r="2"/><circle cx="908.8" cy="167.8" r="2"/><circle cx="926.8" cy="162.1" r="2"/><circle cx="942.3" cy="165.5" r="2"/><circle cx="930.6" cy="167.5" r="2"/><circle cx="918.2" cy="167.5" r="2"/><circle cx="917.4" cy="170.6" r="2"/><circle cx="931.4" cy="170.6" r="2"/><circle cx="937.7" cy="171.4" r="2"/><circle cx="934.5" cy="173.8" r="2"/><circle cx="941.6" cy="174.5" r="2"/><circle cx="900.7" cy="175.0" r="2"/><circle cx="915.1" cy="173.8" r="2"/><circle cx="915.8" cy="176.9" r="2"/><circle cx="919.0" cy="178.4" r="2"/><circle cx="917.4" cy="180.8" r="2"/><circle cx="923.6" cy="179.2" r="2"/><circle cx="929.9" cy="178.0" r="2"/><circle cx="933.8" cy="176.9" r="2"/><circle cx="940.0" cy="179.7" r="2"/><circle cx="929.6" cy="194.7" r="2"/><circle cx="931.3" cy="203.4" r="2"/><circle cx="928.7" cy="208.6" r="2"/><circle cx="926.8" cy="190.9" r="2"/><circle cx="929.4" cy="196.6" r="2"/><circle cx="926.7" cy="198.9" r="2"/><circle cx="931.3" cy="208.6" r="2"/><circle cx="933.0" cy="200.0" r="2"/><circle cx="931.0" cy="200.2" r="2"/><circle cx="931.1" cy="204.8" r="2"/><circle cx="928.7" cy="190.1" r="2"/><circle cx="932.5" cy="197.5" r="2"/><circle cx="932.9" cy="211.9" r="2"/><circle cx="925.9" cy="194.7" r="2"/><circle cx="923.9" cy="190.1" r="2"/><circle cx="924.2" cy="202.8" r="2"/><circle cx="925.8" cy="204.2" r="2"/><circle cx="933.0" cy="208.2" r="2"/><circle cx="938.6" cy="206.4" r="2"/><circle cx="931.3" cy="201.8" r="2"/><circle cx="938.4" cy="208.6" r="2"/><circle cx="929.9" cy="203.3" r="2"/><circle cx="927.8" cy="193.6" r="2"/><circle cx="927.5" cy="192.4" r="2"/><circle cx="935.6" cy="203.7" r="2"/><circle cx="927.4" cy="208.4" r="2"/><circle cx="932.3" cy="190.4" r="2"/><circle cx="938.0" cy="205.2" r="2"/><circle cx="937.2" cy="194.1" r="2"/><circle cx="932.9" cy="203.1" r="2"/><circle cx="933.3" cy="192.6" r="2"/><circle cx="925.0" cy="193.2" r="2"/><circle cx="928.1" cy="197.5" r="2"/><circle cx="929.8" cy="206.0" r="2"/><circle cx="933.5" cy="201.4" r="2"/><circle cx="929.0" cy="204.3" r="2"/><circle cx="934.6" cy="199.4" r="2"/><circle cx="932.8" cy="194.7" r="2"/><circle cx="928.1" cy="199.9" r="2"/><circle cx="931.4" cy="199.0" r="2"/><circle cx="931.2" cy="197.8" r="2"/><circle cx="934.9" cy="201.0" r="2"/><circle cx="924.3" cy="201.3" r="2"/><circle cx="933.2" cy="206.7" r="2"/><circle cx="928.4" cy="194.7" r="2"/><circle cx="935.4" cy="205.8" r="2"/><circle cx="932.0" cy="206.8" r="2"/><circle cx="924.4" cy="199.0" r="2"/><circle cx="929.6" cy="192.9" r="2"/><circle cx="935.9" cy="209.5" r="2"/><circle cx="926.4" cy="193.2" r="2"/><circle cx="934.2" cy="205.1" r="2"/><circle cx="932.4" cy="205.1" r="2"/><circle cx="929.1" cy="214.9" r="2"/><circle cx="927.8" cy="185.9" r="2"/><circle cx="936.3" cy="182.6" r="2"/><circle cx="936.3" cy="185.9" r="2"/><circle cx="940.8" cy="180.7" r="2"/><circle cx="943.4" cy="189.1" r="2"/><circle cx="946.7" cy="194.0" r="2"/><circle cx="938.9" cy="192.4" r="2"/><circle cx="940.8" cy="196.9" r="2"/><circle cx="943.4" cy="200.8" r="2"/><circle cx="944.1" cy="204.7" r="2"/><circle cx="947.3" cy="204.7" r="2"/><circle cx="948.0" cy="208.0" r="2"/><circle cx="936.9" cy="211.2" r="2"/><circle cx="938.2" cy="214.5" r="2"/><circle cx="939.5" cy="217.7" r="2"/><circle cx="938.9" cy="221.0" r="2"/><circle cx="940.8" cy="224.9" r="2"/><circle cx="944.1" cy="232.3" r="2"/><circle cx="942.8" cy="212.5" r="2"/><circle cx="941.5" cy="215.1" r="2"/><circle cx="944.7" cy="219.0" r="2"/><circle cx="946.0" cy="221.6" r="2"/><circle cx="947.3" cy="224.2" r="2"/><circle cx="949.3" cy="226.8" r="2"/><circle cx="948.0" cy="212.5" r="2"/><circle cx="951.2" cy="216.4" r="2"/><circle cx="953.8" cy="214.5" r="2"/><circle cx="957.1" cy="208.0" r="2"/><circle cx="957.7" cy="217.1" r="2"/><circle cx="965.5" cy="212.8" r="2"/><circle cx="966.2" cy="218.4" r="2"/><circle cx="955.1" cy="222.9" r="2"/><circle cx="957.7" cy="224.2" r="2"/><circle cx="959.0" cy="226.2" r="2"/><circle cx="961.6" cy="224.9" r="2"/><circle cx="964.2" cy="222.9" r="2"/><circle cx="966.8" cy="222.3" r="2"/><circle cx="970.1" cy="222.9" r="2"/><circle cx="972.0" cy="224.9" r="2"/><circle cx="977.2" cy="222.9" r="2"/><circle cx="952.5" cy="230.1" r="2"/><circle cx="955.1" cy="232.0" r="2"/><circle cx="957.7" cy="229.4" r="2"/><circle cx="960.3" cy="231.4" r="2"/><circle cx="962.9" cy="228.8" r="2"/><circle cx="965.5" cy="227.5" r="2"/><circle cx="968.1" cy="229.4" r="2"/><circle cx="970.7" cy="227.5" r="2"/><circle cx="973.3" cy="229.4" r="2"/><circle cx="975.9" cy="227.5" r="2"/><circle cx="949.9" cy="234.6" r="2"/><circle cx="951.2" cy="237.2" r="2"/><circle cx="948.6" cy="239.8" r="2"/><circle cx="949.3" cy="243.1" r="2"/><circle cx="951.9" cy="245.7" r="2"/><circle cx="954.5" cy="243.7" r="2"/><circle cx="957.1" cy="241.1" r="2"/><circle cx="959.0" cy="238.5" r="2"/><circle cx="961.6" cy="237.2" r="2"/><circle cx="964.2" cy="235.3" r="2"/><circle cx="966.8" cy="237.2" r="2"/><circle cx="958.4" cy="234.6" r="2"/><circle cx="955.1" cy="239.2" r="2"/><circle cx="966.2" cy="244.4" r="2"/><circle cx="973.3" cy="234.6" r="2"/><circle cx="974.6" cy="237.9" r="2"/><circle cx="973.3" cy="240.5" r="2"/><circle cx="975.9" cy="239.8" r="2"/><circle cx="974.6" cy="243.7" r="2"/><circle cx="977.2" cy="246.3" r="2"/><circle cx="981.8" cy="227.5" r="2"/><circle cx="983.1" cy="230.1" r="2"/><circle cx="981.1" cy="232.0" r="2"/><circle cx="983.7" cy="234.0" r="2"/><circle cx="981.8" cy="235.9" r="2"/><circle cx="984.4" cy="237.2" r="2"/><circle cx="983.7" cy="241.8" r="2"/><circle cx="988.3" cy="237.2" r="2"/><circle cx="988.9" cy="239.8" r="2"/><circle cx="990.2" cy="243.1" r="2"/><circle cx="990.2" cy="245.0" r="2"/><circle cx="991.5" cy="231.4" r="2"/><circle cx="996.1" cy="239.8" r="2"/><circle cx="998.7" cy="244.4" r="2"/><circle cx="1001.3" cy="245.0" r="2"/><circle cx="1000.0" cy="247.0" r="2"/><circle cx="1002.6" cy="250.2" r="2"/><circle cx="995.4" cy="250.2" r="2"/><circle cx="992.8" cy="250.9" r="2"/><circle cx="990.2" cy="252.8" r="2"/><circle cx="998.7" cy="250.9" r="2"/><circle cx="1005.2" cy="236.8" r="2"/><circle cx="1009.7" cy="233.3" r="2"/><circle cx="1010.1" cy="230.1" r="2"/><circle cx="1013.4" cy="241.8" r="2"/><circle cx="1009.1" cy="251.9" r="2"/><circle cx="1011.0" cy="257.4" r="2"/><circle cx="1003.9" cy="256.7" r="2"/><circle cx="1001.9" cy="261.3" r="2"/><circle cx="1008.4" cy="264.5" r="2"/><circle cx="1001.3" cy="267.1" r="2"/><circle cx="996.7" cy="269.7" r="2"/><circle cx="994.1" cy="265.8" r="2"/><circle cx="992.2" cy="263.2" r="2"/><circle cx="988.3" cy="265.8" r="2"/><circle cx="979.2" cy="265.2" r="2"/><circle cx="983.7" cy="269.7" r="2"/><circle cx="982.4" cy="271.7" r="2"/><circle cx="975.3" cy="255.4" r="2"/><circle cx="972.0" cy="258.7" r="2"/><circle cx="969.4" cy="261.3" r="2"/><circle cx="970.7" cy="265.8" r="2"/><circle cx="971.4" cy="269.7" r="2"/><circle cx="974.0" cy="273.0" r="2"/><circle cx="977.2" cy="273.0" r="2"/><circle cx="1009.1" cy="273.6" r="2"/><circle cx="964.2" cy="254.1" r="2"/><circle cx="965.5" cy="256.7" r="2"/><circle cx="953.2" cy="256.1" r="2"/><circle cx="955.8" cy="258.7" r="2"/><circle cx="981.1" cy="254.8" r="2"/><circle cx="979.2" cy="255.4" r="2"/><circle cx="972.0" cy="273.6" r="2"/><circle cx="969.4" cy="275.6" r="2"/><circle cx="1125.5" cy="298.5" r="2"/></g>
<path class="c" d="M833.9 71.4 C836.2 72.5 842.8 74.8 847.6 77.7 C852.4 80.6 857.7 84.5 862.7 88.9 C867.7 93.3 873.1 98.9 877.7 104.0 C882.3 109.1 886.5 114.8 890.3 119.5 C894.1 124.2 897.1 128.0 900.3 132.5 C903.5 137.0 906.5 141.6 909.6 146.5 C912.7 151.4 915.9 156.4 919.0 162.1 C922.1 167.8 925.7 175.4 928.3 180.8 C930.9 186.2 932.4 190.1 934.5 194.8 C936.6 199.5 938.2 204.2 940.8 208.8 C943.4 213.5 946.5 217.9 950.1 222.7 C953.8 227.5 958.5 233.1 962.7 237.7 C966.9 242.3 971.0 246.6 975.2 250.2 C979.4 253.8 983.5 256.5 987.7 259.0 C991.9 261.5 996.1 263.4 1000.3 265.3 C1004.5 267.2 1008.6 268.9 1012.8 270.3 C1017.0 271.8 1020.7 272.7 1025.3 274.0 C1029.9 275.3 1035.4 277.0 1040.4 278.3 C1045.4 279.6 1050.4 280.8 1055.4 281.6 C1060.4 282.4 1064.3 282.9 1070.4 283.3 C1076.5 283.7 1086.2 284.0 1092.0 284.1 C1097.8 284.2 1101.2 284.1 1105.0 284.0 C1108.8 283.9 1111.6 283.6 1115.0 283.3 C1118.4 283.0 1123.6 282.2 1125.3 282.0"/>
<rect class="f" x="819.0" y="20.8" width="321.7" height="311.5"/>
<path class="m" d="M877.4 332.8v2.9M960.1 332.8v2.9M1042.6 332.8v2.9M1125.3 332.8v2.9M818.5 21.9h-2.9M818.5 110.5h-2.9M818.5 198.6h-2.9M818.5 287.1h-2.9"/>
<text class="k" text-anchor="middle" x="877.4" y="344.2">2</text>
<text class="k" text-anchor="middle" x="960.1" y="344.2">4</text>
<text class="k" text-anchor="middle" x="1042.6" y="344.2">6</text>
<text class="k" text-anchor="middle" x="1125.3" y="344.2">8</text>
<text class="k" text-anchor="end" x="813.6" y="25.0">0.2</text>
<text class="k" text-anchor="end" x="813.6" y="113.7">0.1</text>
<text class="k" text-anchor="end" x="813.6" y="201.8">0.0</text>
<text class="k" text-anchor="end" x="813.6" y="290.2">-0.1</text>
<text class="a" x="979.9" y="357.5">FIB</text>
<text class="a" transform="translate(794.0 176.6) rotate(-90)">SHAP value</text>
</g>
<g id="panel4">
<text class="t" x="1370.0" y="12.6">Dependence plot: DBP</text>
<path class="g" d="M1309.5 20.8V332.3M1410.5 20.8V332.3M1511.3 20.8V332.3M1209.6 72.3H1530.4M1209.6 152.4H1530.4M1209.6 232.7H1530.4M1209.6 312.4H1530.4"/>
<g class="p"><circle cx="1491.1" cy="34.6" r="2"/><circle cx="1511.4" cy="34.6" r="2"/><circle cx="1486.1" cy="72.9" r="2"/><circle cx="1511.4" cy="80.9" r="2"/><circle cx="1511.4" cy="85.2" r="2"/><circle cx="1511.4" cy="98.2" r="2"/><circle cx="1516.5" cy="96.7" r="2"/><circle cx="1496.4" cy="99.2" r="2"/><circle cx="1491.1" cy="116.5" r="2"/><circle cx="1481.1" cy="114.8" r="2"/><circle cx="1471.1" cy="121.5" r="2"/><circle cx="1476.1" cy="124.0" r="2"/><circle cx="1481.1" cy="123.5" r="2"/><circle cx="1486.1" cy="127.8" r="2"/><circle cx="1486.1" cy="131.1" r="2"/><circle cx="1440.8" cy="127.8" r="2"/><circle cx="1450.8" cy="134.6" r="2"/><circle cx="1466.1" cy="132.8" r="2"/><circle cx="1471.1" cy="132.8" r="2"/><circle cx="1476.1" cy="132.8" r="2"/><circle cx="1476.1" cy="136.6" r="2"/><circle cx="1471.1" cy="139.6" r="2"/><circle cx="1476.1" cy="140.8" r="2"/><circle cx="1481.1" cy="141.1" r="2"/><circle cx="1435.7" cy="143.1" r="2"/><circle cx="1461.1" cy="144.9" r="2"/><circle cx="1425.7" cy="148.1" r="2"/><circle cx="1440.8" cy="151.1" r="2"/><circle cx="1415.7" cy="152.6" r="2"/><circle cx="1420.7" cy="155.9" r="2"/><circle cx="1435.7" cy="155.9" r="2"/><circle cx="1440.8" cy="157.1" r="2"/><circle cx="1471.1" cy="149.1" r="2"/><circle cx="1471.1" cy="154.1" r="2"/><circle cx="1471.1" cy="156.6" r="2"/><circle cx="1471.1" cy="160.4" r="2"/><circle cx="1461.1" cy="154.9" r="2"/><circle cx="1430.7" cy="159.9" r="2"/><circle cx="1430.7" cy="162.9" r="2"/><circle cx="1415.7" cy="163.4" r="2"/><circle cx="1456.0" cy="161.1" r="2"/><circle cx="1461.1" cy="163.7" r="2"/><circle cx="1461.1" cy="166.7" r="2"/><circle cx="1435.7" cy="165.9" r="2"/><circle cx="1304.5" cy="267.8" r="2"/><circle cx="1304.5" cy="271.5" r="2"/><circle cx="1304.5" cy="296.6" r="2"/><circle cx="1304.5" cy="304.1" r="2"/><circle cx="1309.5" cy="267.8" r="2"/><circle cx="1309.5" cy="275.3" r="2"/><circle cx="1309.5" cy="279.0" r="2"/><circle cx="1309.5" cy="281.6" r="2"/><circle cx="1309.5" cy="300.4" r="2"/><circle cx="1309.5" cy="316.1" r="2"/><circle cx="1314.6" cy="267.8" r="2"/><circle cx="1314.6" cy="285.3" r="2"/><circle cx="1319.6" cy="265.3" r="2"/><circle cx="1319.6" cy="271.5" r="2"/><circle cx="1319.6" cy="274.0" r="2"/><circle cx="1319.6" cy="279.0" r="2"/><circle cx="1319.6" cy="282.8" r="2"/><circle cx="1319.6" cy="285.3" r="2"/><circle cx="1319.6" cy="316.6" r="2"/><circle cx="1319.6" cy="318.4" r="2"/><circle cx="1324.7" cy="261.5" r="2"/><circle cx="1324.7" cy="264.0" r="2"/><circle cx="1324.7" cy="269.0" r="2"/><circle cx="1324.7" cy="271.5" r="2"/><circle cx="1324.7" cy="277.8" r="2"/><circle cx="1324.7" cy="282.8" r="2"/><circle cx="1324.7" cy="286.6" r="2"/><circle cx="1324.7" cy="292.8" r="2"/><circle cx="1324.7" cy="296.6" r="2"/><circle cx="1324.7" cy="300.4" r="2"/><circle cx="1324.7" cy="309.6" r="2"/><circle cx="1329.7" cy="260.2" r="2"/><circle cx="1329.7" cy="266.5" r="2"/><circle cx="1329.7" cy="269.0" r="2"/><circle cx="1329.7" cy="271.5" r="2"/><circle cx="1329.7" cy="276.5" r="2"/><circle cx="1329.7" cy="281.6" r="2"/><circle cx="1329.7" cy="284.1" r="2"/><circle cx="1329.7" cy="286.6" r="2"/><circle cx="1329.7" cy="289.1" r="2"/><circle cx="1334.8" cy="261.5" r="2"/><circle cx="1334.8" cy="265.3" r="2"/><circle cx="1334.8" cy="271.5" r="2"/><circle cx="1334.8" cy="274.0" r="2"/><circle cx="1334.8" cy="279.0" r="2"/><circle cx="1334.8" cy="284.1" r="2"/><circle cx="1334.8" cy="286.6" r="2"/><circle cx="1334.8" cy="289.1" r="2"/><circle cx="1334.8" cy="295.3" r="2"/><circle cx="1339.8" cy="261.0" r="2"/><circle cx="1339.8" cy="264.0" r="2"/><circle cx="1339.8" cy="270.3" r="2"/><circle cx="1339.8" cy="272.8" r="2"/><circle cx="1339.8" cy="279.0" r="2"/><circle cx="1339.8" cy="281.6" r="2"/><circle cx="1339.8" cy="284.1" r="2"/><circle cx="1339.8" cy="286.6" r="2"/><circle cx="1339.8" cy="289.1" r="2"/><circle cx="1339.8" cy="298.6" r="2"/><circle cx="1344.9" cy="262.8" r="2"/><circle cx="1344.9" cy="265.3" r="2"/><circle cx="1344.9" cy="270.3" r="2"/><circle cx="1344.9" cy="275.3" r="2"/><circle cx="1344.9" cy="280.3" r="2"/><circle cx="1344.9" cy="282.8" r="2"/><circle cx="1344.9" cy="286.6" r="2"/><circle cx="1344.9" cy="289.6" r="2"/><circle cx="1344.9" cy="301.6" r="2"/><circle cx="1349.9" cy="256.5" r="2"/><circle cx="1349.9" cy="259.0" r="2"/><circle cx="1349.9" cy="261.5" r="2"/><circle cx="1349.9" cy="267.8" r="2"/><circle cx="1349.9" cy="274.0" r="2"/><circle cx="1349.9" cy="280.3" r="2"/><circle cx="1349.9" cy="285.3" r="2"/><circle cx="1349.9" cy="288.3" r="2"/><circle cx="1355.0" cy="257.7" r="2"/><circle cx="1355.0" cy="260.2" r="2"/><circle cx="1355.0" cy="262.8" r="2"/><circle cx="1355.0" cy="270.3" r="2"/><circle cx="1355.0" cy="277.8" r="2"/><circle cx="1355.0" cy="280.3" r="2"/><circle cx="1360.0" cy="249.0" r="2"/><circle cx="1360.0" cy="251.5" r="2"/><circle cx="1360.0" cy="254.0" r="2"/><circle cx="1360.0" cy="259.0" r="2"/><circle cx="1360.0" cy="261.5" r="2"/><circle cx="1360.0" cy="264.0" r="2"/><circle cx="1360.0" cy="270.3" r="2"/><circle cx="1360.0" cy="277.8" r="2"/><circle cx="1360.0" cy="280.8" r="2"/><circle cx="1365.1" cy="245.7" r="2"/><circle cx="1365.1" cy="249.0" r="2"/><circle cx="1365.1" cy="254.0" r="2"/><circle cx="1365.1" cy="256.5" r="2"/><circle cx="1365.1" cy="259.0" r="2"/><circle cx="1365.1" cy="261.5" r="2"/><circle cx="1365.1" cy="264.0" r="2"/><circle cx="1365.1" cy="266.5" r="2"/><circle cx="1365.1" cy="269.0" r="2"/><circle cx="1365.1" cy="271.5" r="2"/><circle cx="1365.1" cy="275.3" r="2"/><circle cx="1365.1" cy="294.8" r="2"/><circle cx="1370.1" cy="247.7" r="2"/><circle cx="1370.1" cy="254.0" r="2"/><circle cx="1370.1" cy="256.5" r="2"/><circle cx="1370.1" cy="259.0" r="2"/><circle cx="1370.1" cy="261.5" r="2"/><circle cx="1370.1" cy="264.0" r="2"/><circle cx="1370.1" cy="266.5" r="2"/><circle cx="1370.1" cy="269.0" r="2"/><circle cx="1370.1" cy="271.5" r="2"/><circle cx="1370.1" cy="277.8" r="2"/><circle cx="1370.1" cy="285.3" r="2"/><circle cx="1375.2" cy="211.4" r="2"/><circle cx="1375.2" cy="213.9" r="2"/><circle cx="1375.2" cy="218.9" r="2"/><circle cx="1375.2" cy="222.7" r="2"/><circle cx="1375.2" cy="236.4" r="2"/><circle cx="1375.2" cy="238.9" r="2"/><circle cx="1375.2" cy="241.4" r="2"/><circle cx="1375.2" cy="244.0" r="2"/><circle cx="1375.2" cy="258.2" r="2"/><circle cx="1380.2" cy="205.6" r="2"/><circle cx="1380.2" cy="212.6" r="2"/><circle cx="1380.2" cy="216.4" r="2"/><circle cx="1380.2" cy="232.7" r="2"/><circle cx="1380.2" cy="235.2" r="2"/><circle cx="1380.2" cy="240.2" r="2"/><circle cx="1380.2" cy="243.2" r="2"/><circle cx="1380.2" cy="246.5" r="2"/><circle cx="1380.2" cy="249.0" r="2"/><circle cx="1385.3" cy="193.8" r="2"/><circle cx="1385.3" cy="205.6" r="2"/><circle cx="1385.3" cy="220.1" r="2"/><circle cx="1385.3" cy="228.9" r="2"/><circle cx="1385.3" cy="231.4" r="2"/><circle cx="1385.3" cy="233.9" r="2"/><circle cx="1385.3" cy="236.4" r="2"/><circle cx="1390.3" cy="215.1" r="2"/><circle cx="1390.3" cy="221.4" r="2"/><circle cx="1390.3" cy="223.9" r="2"/><circle cx="1390.3" cy="226.4" r="2"/><circle cx="1390.3" cy="228.9" r="2"/><circle cx="1390.3" cy="231.4" r="2"/><circle cx="1390.3" cy="237.7" r="2"/><circle cx="1390.3" cy="240.2" r="2"/><circle cx="1390.3" cy="243.2" r="2"/><circle cx="1395.4" cy="197.1" r="2"/><circle cx="1395.4" cy="200.1" r="2"/><circle cx="1395.4" cy="202.6" r="2"/><circle cx="1395.4" cy="216.4" r="2"/><circle cx="1395.4" cy="218.9" r="2"/><circle cx="1395.4" cy="223.9" r="2"/><circle cx="1395.4" cy="226.4" r="2"/><circle cx="1395.4" cy="228.9" r="2"/><circle cx="1395.4" cy="231.4" r="2"/><circle cx="1395.4" cy="233.9" r="2"/><circle cx="1395.4" cy="238.9" r="2"/><circle cx="1395.4" cy="241.4" r="2"/><circle cx="1400.4" cy="180.0" r="2"/><circle cx="1400.4" cy="190.6" r="2"/><circle cx="1400.4" cy="197.6" r="2"/><circle cx="1400.4" cy="211.4" r="2"/><circle cx="1400.4" cy="217.6" r="2"/><circle cx="1400.4" cy="220.1" r="2"/><circle cx="1400.4" cy="222.7" r="2"/><circle cx="1400.4" cy="225.2" r="2"/><circle cx="1400.4" cy="227.7" r="2"/><circle cx="1400.4" cy="230.2" r="2"/><circle cx="1400.4" cy="232.7" r="2"/><circle cx="1400.4" cy="235.2" r="2"/><circle cx="1405.5" cy="178.8" r="2"/><circle cx="1405.5" cy="185.1" r="2"/><circle cx="1405.5" cy="202.6" r="2"/><circle cx="1405.5" cy="206.4" r="2"/><circle cx="1405.5" cy="223.9" r="2"/><circle cx="1405.5" cy="226.4" r="2"/><circle cx="1405.5" cy="233.9" r="2"/><circle cx="1405.5" cy="236.4" r="2"/><circle cx="1405.5" cy="240.2" r="2"/><circle cx="1410.5" cy="168.0" r="2"/><circle cx="1410.5" cy="186.3" r="2"/><circle cx="1410.5" cy="206.4" r="2"/><circle cx="1410.5" cy="208.9" r="2"/><circle cx="1410.5" cy="217.6" r="2"/><circle cx="1410.5" cy="220.1" r="2"/><circle cx="1410.5" cy="222.7" r="2"/><circle cx="1410.5" cy="225.2" r="2"/><circle cx="1410.5" cy="227.7" r="2"/><circle cx="1410.5" cy="230.2" r="2"/><circle cx="1410.5" cy="232.2" r="2"/><circle cx="1415.6" cy="177.5" r="2"/><circle cx="1415.6" cy="188.8" r="2"/><circle cx="1415.6" cy="205.1" r="2"/><circle cx="1415.6" cy="207.6" r="2"/><circle cx="1415.6" cy="210.1" r="2"/><circle cx="1415.6" cy="213.9" r="2"/><circle cx="1415.6" cy="216.4" r="2"/><circle cx="1415.6" cy="218.9" r="2"/><circle cx="1420.6" cy="175.0" r="2"/><circle cx="1420.6" cy="177.5" r="2"/><circle cx="1420.6" cy="180.0" r="2"/><circle cx="1420.6" cy="182.5" r="2"/><circle cx="1420.6" cy="185.1" r="2"/><circle cx="1420.6" cy="190.1" r="2"/><circle cx="1420.6" cy="192.6" r="2"/><circle cx="1420.6" cy="198.8" r="2"/><circle cx="1420.6" cy="207.6" r="2"/><circle cx="1425.7" cy="174.5" r="2"/><circle cx="1425.7" cy="193.8" r="2"/><circle cx="1425.7" cy="203.9" r="2"/><circle cx="1425.7" cy="206.4" r="2"/><circle cx="1425.7" cy="211.4" r="2"/><circle cx="1425.7" cy="213.9" r="2"/><circle cx="1425.7" cy="217.1" r="2"/><circle cx="1430.7" cy="176.3" r="2"/><circle cx="1430.7" cy="178.8" r="2"/><circle cx="1430.7" cy="181.3" r="2"/><circle cx="1430.7" cy="183.8" r="2"/><circle cx="1430.7" cy="190.1" r="2"/><circle cx="1430.7" cy="193.1" r="2"/><circle cx="1430.7" cy="205.1" r="2"/><circle cx="1430.7" cy="208.9" r="2"/><circle cx="1435.8" cy="182.5" r="2"/><circle cx="1435.8" cy="185.1" r="2"/><circle cx="1435.8" cy="190.1" r="2"/><circle cx="1435.8" cy="193.1" r="2"/><circle cx="1435.8" cy="204.6" r="2"/><circle cx="1435.8" cy="213.9" r="2"/><circle cx="1440.8" cy="177.5" r="2"/><circle cx="1440.8" cy="180.0" r="2"/><circle cx="1440.8" cy="182.5" r="2"/><circle cx="1440.8" cy="202.1" r="2"/><circle cx="1440.8" cy="206.4" r="2"/><circle cx="1440.8" cy="208.9" r="2"/><circle cx="1440.8" cy="216.4" r="2"/><circle cx="1445.9" cy="188.8" r="2"/><circle cx="1445.9" cy="200.1" r="2"/><circle cx="1445.9" cy="205.1" r="2"/><circle cx="1450.9" cy="175.0" r="2"/><circle cx="1450.9" cy="187.1" r="2"/><circle cx="1450.9" cy="189.6" r="2"/><circle cx="1450.9" cy="192.6" r="2"/><circle cx="1456.0" cy="176.3" r="2"/><circle cx="1456.0" cy="178.8" r="2"/><circle cx="1456.0" cy="180.5" r="2"/><circle cx="1456.0" cy="188.1" r="2"/><circle cx="1461.0" cy="173.8" r="2"/><circle cx="1461.0" cy="176.3" r="2"/><circle cx="1466.1" cy="174.5" r="2"/><circle cx="1223.7" cy="264.0" r="2"/><circle cx="1238.9" cy="289.8" r="2"/><circle cx="1254.0" cy="273.3" r="2"/><circle cx="1259.1" cy="271.5" r="2"/><circle cx="1259.1" cy="282.8" r="2"/><circle cx="1259.1" cy="292.8" r="2"/><circle cx="1264.1" cy="276.5" r="2"/><circle cx="1264.1" cy="292.1" r="2"/><circle cx="1264.1" cy="306.1" r="2"/><circle cx="1269.2" cy="273.3" r="2"/><circle cx="1269.2" cy="302.1" r="2"/><circle cx="1274.2" cy="265.8" r="2"/><circle cx="1274.2" cy="273.3" r="2"/><circle cx="1274.2" cy="275.3" r="2"/><circle cx="1274.2" cy="282.8" r="2"/><circle cx="1279.3" cy="261.5" r="2"/><circle cx="1279.3" cy="264.0" r="2"/><circle cx="1279.3" cy="270.3" r="2"/><circle cx="1279.3" cy="281.6" r="2"/><circle cx="1284.3" cy="269.0" r="2"/><circle cx="1284.3" cy="275.8" r="2"/><circle cx="1289.4" cy="275.3" r="2"/><circle cx="1289.4" cy="279.0" r="2"/><circle cx="1289.4" cy="281.6" r="2"/><circle cx="1289.4" cy="289.1" r="2"/><circle cx="1294.4" cy="268.3" r="2"/><circle cx="1294.4" cy="274.5" r="2"/><circle cx="1294.4" cy="277.0" r="2"/><circle cx="1294.4" cy="282.1" r="2"/><circle cx="1294.4" cy="287.8" r="2"/><circle cx="1299.5" cy="282.1" r="2"/><circle cx="1299.5" cy="287.1" r="2"/><circle cx="1299.5" cy="289.6" r="2"/><circle cx="1299.5" cy="296.6" r="2"/><circle cx="1304.5" cy="287.8" r="2"/></g>
<path class="c" d="M1224.6 259.7 C1226.8 261.5 1232.9 267.1 1237.6 270.3 C1242.3 273.5 1247.7 276.7 1252.7 279.0 C1257.7 281.3 1262.7 282.7 1267.7 284.0 C1272.7 285.3 1277.8 286.1 1282.8 286.6 C1287.8 287.1 1292.8 287.3 1297.8 287.1 C1302.8 286.9 1307.8 286.3 1312.8 285.3 C1317.8 284.3 1322.9 283.0 1327.9 281.0 C1332.9 279.0 1338.3 276.3 1342.9 273.5 C1347.5 270.7 1351.6 267.2 1355.4 264.0 C1359.2 260.8 1362.9 257.4 1366.0 254.5 C1369.1 251.6 1371.3 249.3 1374.0 246.5 C1376.7 243.7 1378.4 241.8 1381.9 237.6 C1385.4 233.4 1390.5 226.8 1395.2 221.4 C1400.0 216.0 1405.4 210.4 1410.4 205.3 C1415.5 200.2 1420.5 195.8 1425.5 191.1 C1430.5 186.4 1435.6 182.5 1440.7 177.4 C1445.8 172.3 1451.4 166.2 1455.9 160.7 C1460.4 155.2 1463.2 151.0 1467.8 144.5 C1472.4 138.0 1478.3 129.1 1483.4 121.5 C1488.5 113.9 1492.9 107.2 1498.4 99.0 C1503.9 90.8 1513.4 77.0 1516.4 72.6"/>
<rect class="f" x="1209.6" y="20.8" width="320.8" height="311.5"/>
<path class="m" d="M1309.5 332.8v2.9M1410.5 332.8v2.9M1511.3 332.8v2.9M1209.1 72.3h-2.9M1209.1 152.4h-2.9M1209.1 232.7h-2.9M1209.1 312.4h-2.9"/>
<text class="k" text-anchor="middle" x="1309.5" y="344.2">80</text>
<text class="k" text-anchor="middle" x="1410.5" y="344.2">100</text>
<text class="k" text-anchor="middle" x="1511.3" y="344.2">120</text>
<text class="k" text-anchor="end" x="1204.2" y="75.5">0.2</text>
<text class="k" text-anchor="end" x="1204.2" y="155.6">0.1</text>
<text class="k" text-anchor="end" x="1204.2" y="235.8">0.0</text>
<text class="k" text-anchor="end" x="1204.2" y="315.5">-0.1</text>
<text class="a" x="1370.0" y="357.5">DBP</text>
<text class="a" transform="translate(1184.6 176.6) rotate(-90)">SHAP value</text>
</g>
<g id="panel5">
<text class="t" x="200.9" y="386.8">Dependence plot: Prepregnancy BMI</text>
<path class="g" d="M93.4 395.0V707.0M176.6 395.0V707.0M259.7 395.0V707.0M343.2 395.0V707.0M42.8 406.3H359.0M42.8 457.2H359.0M42.8 508.3H359.0M42.8 559.5H359.0M42.8 610.7H359.0M42.8 661.8H359.0"/>
<g class="p"><circle cx="56.8" cy="485.0" r="2"/><circle cx="78.4" cy="472.0" r="2"/><circle cx="91.7" cy="484.5" r="2"/><circle cx="108.2" cy="408.8" r="2"/><circle cx="115.0" cy="431.9" r="2"/><circle cx="111.7" cy="444.7" r="2"/><circle cx="116.5" cy="472.7" r="2"/><circle cx="115.0" cy="486.5" r="2"/><circle cx="126.5" cy="487.3" r="2"/><circle cx="113.2" cy="503.3" r="2"/><circle cx="116.5" cy="499.8" r="2"/><circle cx="119.7" cy="498.3" r="2"/><circle cx="124.7" cy="499.8" r="2"/><circle cx="127.8" cy="499.8" r="2"/><circle cx="124.7" cy="504.8" r="2"/><circle cx="128.3" cy="507.8" r="2"/><circle cx="131.5" cy="509.1" r="2"/><circle cx="138.3" cy="502.1" r="2"/><circle cx="134.8" cy="512.8" r="2"/><circle cx="124.7" cy="524.9" r="2"/><circle cx="129.8" cy="529.6" r="2"/><circle cx="134.8" cy="529.6" r="2"/><circle cx="139.5" cy="484.5" r="2"/><circle cx="137.8" cy="488.5" r="2"/><circle cx="144.8" cy="481.0" r="2"/><circle cx="144.8" cy="485.3" r="2"/><circle cx="148.3" cy="490.3" r="2"/><circle cx="146.6" cy="504.6" r="2"/><circle cx="142.8" cy="512.8" r="2"/><circle cx="141.5" cy="517.1" r="2"/><circle cx="147.1" cy="522.4" r="2"/><circle cx="139.5" cy="524.1" r="2"/><circle cx="143.3" cy="527.9" r="2"/><circle cx="144.8" cy="531.1" r="2"/><circle cx="141.5" cy="534.6" r="2"/><circle cx="139.5" cy="536.6" r="2"/><circle cx="144.8" cy="539.9" r="2"/><circle cx="158.1" cy="479.0" r="2"/><circle cx="158.1" cy="487.0" r="2"/><circle cx="166.6" cy="478.2" r="2"/><circle cx="159.8" cy="492.8" r="2"/><circle cx="158.1" cy="494.5" r="2"/><circle cx="166.6" cy="491.5" r="2"/><circle cx="169.9" cy="490.3" r="2"/><circle cx="159.8" cy="498.3" r="2"/><circle cx="166.6" cy="499.8" r="2"/><circle cx="161.6" cy="504.1" r="2"/><circle cx="159.8" cy="507.1" r="2"/><circle cx="166.6" cy="512.8" r="2"/><circle cx="168.4" cy="514.6" r="2"/><circle cx="156.6" cy="519.1" r="2"/><circle cx="159.8" cy="521.6" r="2"/><circle cx="168.4" cy="521.6" r="2"/><circle cx="166.6" cy="525.4" r="2"/><circle cx="154.8" cy="526.6" r="2"/><circle cx="159.8" cy="529.6" r="2"/><circle cx="164.9" cy="527.9" r="2"/><circle cx="171.6" cy="531.6" r="2"/><circle cx="156.6" cy="534.6" r="2"/><circle cx="154.8" cy="536.6" r="2"/><circle cx="163.3" cy="536.6" r="2"/><circle cx="173.4" cy="536.1" r="2"/><circle cx="174.9" cy="536.6" r="2"/><circle cx="156.6" cy="543.4" r="2"/><circle cx="159.8" cy="543.4" r="2"/><circle cx="168.4" cy="543.4" r="2"/><circle cx="171.6" cy="541.7" r="2"/><circle cx="159.8" cy="546.7" r="2"/><circle cx="164.9" cy="549.2" r="2"/><circle cx="178.1" cy="471.5" r="2"/><circle cx="174.9" cy="481.5" r="2"/><circle cx="176.6" cy="485.3" r="2"/><circle cx="176.6" cy="487.8" r="2"/><circle cx="176.6" cy="493.3" r="2"/><circle cx="174.9" cy="494.5" r="2"/><circle cx="178.1" cy="502.8" r="2"/><circle cx="176.6" cy="509.6" r="2"/><circle cx="179.9" cy="509.6" r="2"/><circle cx="178.1" cy="520.4" r="2"/><circle cx="179.9" cy="535.4" r="2"/><circle cx="183.1" cy="480.2" r="2"/><circle cx="183.1" cy="500.3" r="2"/><circle cx="181.6" cy="507.8" r="2"/><circle cx="183.1" cy="521.1" r="2"/><circle cx="181.6" cy="541.7" r="2"/><circle cx="184.9" cy="544.2" r="2"/><circle cx="188.2" cy="471.5" r="2"/><circle cx="189.9" cy="472.7" r="2"/><circle cx="189.9" cy="485.3" r="2"/><circle cx="191.7" cy="487.3" r="2"/><circle cx="193.2" cy="489.0" r="2"/><circle cx="188.2" cy="491.5" r="2"/><circle cx="186.7" cy="495.3" r="2"/><circle cx="189.9" cy="495.3" r="2"/><circle cx="193.2" cy="497.3" r="2"/><circle cx="188.2" cy="501.6" r="2"/><circle cx="193.2" cy="500.8" r="2"/><circle cx="199.9" cy="499.0" r="2"/><circle cx="198.2" cy="505.3" r="2"/><circle cx="188.2" cy="507.8" r="2"/><circle cx="193.2" cy="507.8" r="2"/><circle cx="198.2" cy="509.6" r="2"/><circle cx="189.9" cy="517.8" r="2"/><circle cx="191.7" cy="519.6" r="2"/><circle cx="199.9" cy="517.1" r="2"/><circle cx="196.7" cy="521.6" r="2"/><circle cx="198.2" cy="524.1" r="2"/><circle cx="201.7" cy="526.6" r="2"/><circle cx="201.7" cy="529.6" r="2"/><circle cx="205.0" cy="532.9" r="2"/><circle cx="201.7" cy="546.7" r="2"/><circle cx="211.7" cy="536.1" r="2"/><circle cx="215.0" cy="535.4" r="2"/><circle cx="210.0" cy="538.7" r="2"/><circle cx="216.7" cy="539.9" r="2"/><circle cx="216.7" cy="542.9" r="2"/><circle cx="215.0" cy="555.4" r="2"/><circle cx="216.7" cy="552.4" r="2"/><circle cx="213.2" cy="556.7" r="2"/><circle cx="216.7" cy="559.7" r="2"/><circle cx="217.1" cy="541.3" r="2"/><circle cx="211.3" cy="546.3" r="2"/><circle cx="194.5" cy="545.5" r="2"/><circle cx="214.6" cy="556.8" r="2"/><circle cx="218.1" cy="562.6" r="2"/><circle cx="224.6" cy="562.6" r="2"/><circle cx="226.4" cy="565.1" r="2"/><circle cx="223.1" cy="568.9" r="2"/><circle cx="226.4" cy="571.4" r="2"/><circle cx="224.6" cy="574.6" r="2"/><circle cx="221.4" cy="576.4" r="2"/><circle cx="218.1" cy="597.2" r="2"/><circle cx="229.6" cy="582.1" r="2"/><circle cx="231.4" cy="586.4" r="2"/><circle cx="238.2" cy="587.1" r="2"/><circle cx="241.4" cy="590.2" r="2"/><circle cx="249.7" cy="585.1" r="2"/><circle cx="249.7" cy="589.7" r="2"/><circle cx="248.2" cy="592.7" r="2"/><circle cx="251.4" cy="593.9" r="2"/><circle cx="259.7" cy="590.9" r="2"/><circle cx="264.7" cy="590.9" r="2"/><circle cx="291.5" cy="587.9" r="2"/><circle cx="296.6" cy="596.4" r="2"/><circle cx="311.6" cy="599.4" r="2"/><circle cx="313.1" cy="600.9" r="2"/><circle cx="331.6" cy="601.4" r="2"/><circle cx="228.1" cy="600.2" r="2"/><circle cx="231.4" cy="599.7" r="2"/><circle cx="234.6" cy="596.4" r="2"/><circle cx="238.2" cy="597.2" r="2"/><circle cx="241.4" cy="598.9" r="2"/><circle cx="244.7" cy="597.2" r="2"/><circle cx="246.4" cy="600.2" r="2"/><circle cx="248.2" cy="602.7" r="2"/><circle cx="244.7" cy="603.9" r="2"/><circle cx="241.4" cy="605.2" r="2"/><circle cx="238.2" cy="607.7" r="2"/><circle cx="254.7" cy="605.2" r="2"/><circle cx="261.5" cy="602.7" r="2"/><circle cx="264.7" cy="599.7" r="2"/><circle cx="268.2" cy="598.2" r="2"/><circle cx="269.7" cy="601.4" r="2"/><circle cx="274.7" cy="600.2" r="2"/><circle cx="271.5" cy="604.7" r="2"/><circle cx="273.2" cy="607.7" r="2"/><circle cx="278.3" cy="607.2" r="2"/><circle cx="283.3" cy="603.9" r="2"/><circle cx="289.8" cy="604.7" r="2"/><circle cx="289.8" cy="606.4" r="2"/><circle cx="286.5" cy="609.7" r="2"/><circle cx="296.6" cy="607.7" r="2"/><circle cx="311.6" cy="609.7" r="2"/><circle cx="229.6" cy="611.5" r="2"/><circle cx="233.1" cy="611.5" r="2"/><circle cx="239.7" cy="611.5" r="2"/><circle cx="243.2" cy="614.0" r="2"/><circle cx="241.4" cy="616.5" r="2"/><circle cx="244.7" cy="617.7" r="2"/><circle cx="246.4" cy="619.0" r="2"/><circle cx="254.7" cy="611.5" r="2"/><circle cx="256.4" cy="614.0" r="2"/><circle cx="259.7" cy="609.0" r="2"/><circle cx="264.7" cy="614.0" r="2"/><circle cx="263.2" cy="616.5" r="2"/><circle cx="269.7" cy="612.7" r="2"/><circle cx="266.5" cy="619.0" r="2"/><circle cx="274.7" cy="619.0" r="2"/><circle cx="278.3" cy="621.5" r="2"/><circle cx="299.8" cy="617.2" r="2"/><circle cx="311.6" cy="615.7" r="2"/><circle cx="338.2" cy="620.7" r="2"/><circle cx="231.4" cy="622.0" r="2"/><circle cx="234.6" cy="620.2" r="2"/><circle cx="238.2" cy="621.5" r="2"/><circle cx="241.4" cy="622.7" r="2"/><circle cx="246.4" cy="624.0" r="2"/><circle cx="234.6" cy="628.3" r="2"/><circle cx="238.2" cy="629.0" r="2"/><circle cx="239.7" cy="631.5" r="2"/><circle cx="244.7" cy="630.3" r="2"/><circle cx="241.4" cy="636.5" r="2"/><circle cx="239.7" cy="638.3" r="2"/><circle cx="243.2" cy="636.5" r="2"/><circle cx="254.7" cy="624.0" r="2"/><circle cx="251.4" cy="629.0" r="2"/><circle cx="254.7" cy="630.3" r="2"/><circle cx="253.2" cy="633.3" r="2"/><circle cx="258.2" cy="636.5" r="2"/><circle cx="261.5" cy="626.5" r="2"/><circle cx="274.7" cy="626.5" r="2"/><circle cx="273.2" cy="632.8" r="2"/><circle cx="275.2" cy="632.8" r="2"/><circle cx="284.8" cy="627.0" r="2"/><circle cx="304.8" cy="627.0" r="2"/><circle cx="306.6" cy="631.5" r="2"/><circle cx="323.1" cy="630.8" r="2"/><circle cx="344.7" cy="633.0" r="2"/><circle cx="268.2" cy="636.5" r="2"/><circle cx="269.7" cy="639.0" r="2"/><circle cx="263.2" cy="640.8" r="2"/><circle cx="274.7" cy="641.5" r="2"/><circle cx="264.7" cy="653.6" r="2"/><circle cx="269.7" cy="654.1" r="2"/><circle cx="271.5" cy="656.6" r="2"/><circle cx="268.2" cy="660.3" r="2"/><circle cx="263.2" cy="660.3" r="2"/><circle cx="259.7" cy="661.6" r="2"/><circle cx="288.3" cy="661.8" r="2"/><circle cx="289.8" cy="684.7" r="2"/><circle cx="304.8" cy="693.2" r="2"/><circle cx="188.0" cy="528.3" r="2"/><circle cx="192.0" cy="539.9" r="2"/><circle cx="190.6" cy="541.9" r="2"/><circle cx="187.9" cy="537.1" r="2"/><circle cx="189.1" cy="540.4" r="2"/><circle cx="197.7" cy="536.2" r="2"/><circle cx="199.7" cy="545.1" r="2"/><circle cx="194.1" cy="540.4" r="2"/><circle cx="190.0" cy="532.2" r="2"/><circle cx="192.6" cy="544.2" r="2"/><circle cx="189.6" cy="538.3" r="2"/><circle cx="184.1" cy="542.7" r="2"/><circle cx="188.7" cy="532.0" r="2"/><circle cx="187.1" cy="533.4" r="2"/><circle cx="194.3" cy="542.8" r="2"/><circle cx="194.5" cy="534.6" r="2"/><circle cx="183.8" cy="533.8" r="2"/><circle cx="187.6" cy="539.2" r="2"/><circle cx="191.6" cy="529.8" r="2"/><circle cx="194.6" cy="531.5" r="2"/><circle cx="188.1" cy="544.0" r="2"/><circle cx="188.2" cy="534.7" r="2"/><circle cx="186.1" cy="540.0" r="2"/><circle cx="185.8" cy="527.2" r="2"/><circle cx="191.3" cy="532.6" r="2"/><circle cx="180.0" cy="538.4" r="2"/><circle cx="196.0" cy="539.0" r="2"/><circle cx="195.2" cy="541.4" r="2"/><circle cx="183.6" cy="535.5" r="2"/><circle cx="184.1" cy="537.0" r="2"/><circle cx="193.1" cy="532.2" r="2"/><circle cx="181.2" cy="544.0" r="2"/><circle cx="199.8" cy="547.5" r="2"/><circle cx="195.2" cy="537.9" r="2"/><circle cx="184.4" cy="541.2" r="2"/><circle cx="191.7" cy="545.6" r="2"/><circle cx="195.9" cy="543.8" r="2"/><circle cx="184.8" cy="538.7" r="2"/><circle cx="192.2" cy="550.0" r="2"/><circle cx="186.6" cy="543.2" r="2"/><circle cx="214.9" cy="581.7" r="2"/><circle cx="206.2" cy="559.4" r="2"/><circle cx="211.8" cy="588.3" r="2"/><circle cx="204.6" cy="560.6" r="2"/><circle cx="209.9" cy="575.0" r="2"/><circle cx="205.8" cy="564.5" r="2"/><circle cx="211.4" cy="574.2" r="2"/><circle cx="216.6" cy="578.6" r="2"/><circle cx="215.6" cy="587.0" r="2"/><circle cx="206.1" cy="562.6" r="2"/><circle cx="198.8" cy="563.7" r="2"/><circle cx="208.8" cy="570.6" r="2"/><circle cx="202.0" cy="565.0" r="2"/><circle cx="204.1" cy="573.6" r="2"/><circle cx="210.0" cy="587.6" r="2"/><circle cx="211.9" cy="578.2" r="2"/><circle cx="215.6" cy="590.0" r="2"/><circle cx="211.2" cy="585.9" r="2"/><circle cx="207.6" cy="569.5" r="2"/><circle cx="203.8" cy="553.4" r="2"/><circle cx="205.6" cy="570.8" r="2"/><circle cx="208.8" cy="577.7" r="2"/><circle cx="204.5" cy="555.7" r="2"/><circle cx="210.5" cy="579.5" r="2"/><circle cx="206.3" cy="575.4" r="2"/><circle cx="203.1" cy="559.8" r="2"/><circle cx="212.9" cy="593.5" r="2"/><circle cx="208.9" cy="564.7" r="2"/><circle cx="208.3" cy="575.5" r="2"/><circle cx="211.5" cy="570.4" r="2"/><circle cx="212.1" cy="582.5" r="2"/><circle cx="205.6" cy="572.3" r="2"/><circle cx="204.7" cy="567.5" r="2"/><circle cx="212.2" cy="569.0" r="2"/><circle cx="214.1" cy="579.9" r="2"/><circle cx="201.2" cy="549.7" r="2"/><circle cx="207.4" cy="563.8" r="2"/><circle cx="211.7" cy="581.2" r="2"/><circle cx="204.4" cy="563.8" r="2"/><circle cx="209.6" cy="582.1" r="2"/><circle cx="203.2" cy="550.4" r="2"/><circle cx="213.6" cy="577.6" r="2"/><circle cx="214.6" cy="586.0" r="2"/><circle cx="200.6" cy="552.9" r="2"/><circle cx="208.2" cy="585.3" r="2"/><circle cx="205.7" cy="552.9" r="2"/><circle cx="209.3" cy="572.3" r="2"/><circle cx="208.6" cy="567.6" r="2"/><circle cx="198.8" cy="558.8" r="2"/><circle cx="226.2" cy="589.3" r="2"/><circle cx="225.1" cy="595.1" r="2"/><circle cx="220.1" cy="582.8" r="2"/><circle cx="224.0" cy="589.1" r="2"/><circle cx="218.4" cy="575.3" r="2"/><circle cx="226.4" cy="587.0" r="2"/><circle cx="222.7" cy="588.7" r="2"/><circle cx="228.5" cy="588.4" r="2"/><circle cx="217.9" cy="578.2" r="2"/><circle cx="227.9" cy="593.7" r="2"/><circle cx="219.1" cy="586.2" r="2"/><circle cx="221.9" cy="583.7" r="2"/><circle cx="232.0" cy="590.7" r="2"/><circle cx="212.6" cy="573.0" r="2"/><circle cx="226.5" cy="592.3" r="2"/><circle cx="230.0" cy="589.9" r="2"/><circle cx="231.2" cy="595.3" r="2"/><circle cx="225.8" cy="582.0" r="2"/><circle cx="230.1" cy="586.8" r="2"/><circle cx="216.2" cy="582.1" r="2"/><circle cx="228.0" cy="585.6" r="2"/><circle cx="223.3" cy="586.7" r="2"/><circle cx="215.6" cy="573.7" r="2"/><circle cx="221.3" cy="577.9" r="2"/><circle cx="217.8" cy="573.2" r="2"/><circle cx="216.7" cy="580.4" r="2"/><circle cx="222.8" cy="590.4" r="2"/><circle cx="231.5" cy="588.6" r="2"/><circle cx="212.9" cy="570.4" r="2"/><circle cx="229.4" cy="599.4" r="2"/><circle cx="227.8" cy="595.4" r="2"/><circle cx="218.9" cy="589.2" r="2"/><circle cx="219.0" cy="581.6" r="2"/><circle cx="184.6" cy="508.0" r="2"/><circle cx="187.5" cy="512.1" r="2"/><circle cx="182.2" cy="513.2" r="2"/><circle cx="177.6" cy="510.9" r="2"/><circle cx="189.8" cy="508.0" r="2"/><circle cx="195.1" cy="506.2" r="2"/><circle cx="191.6" cy="517.9" r="2"/></g>
<path class="c" d="M57.6 466.0 C61.4 467.8 72.2 473.2 80.1 477.0 C88.0 480.8 96.8 485.2 105.2 489.0 C113.6 492.8 122.8 496.6 130.3 499.5 C137.8 502.4 145.3 504.9 150.3 506.6 C155.3 508.3 156.5 509.0 160.3 509.8 C164.1 510.6 168.7 510.3 172.9 511.6 C177.1 512.9 181.9 515.1 185.4 517.8 C188.9 520.4 191.8 524.0 194.2 527.5 C196.6 531.0 198.2 535.5 200.0 539.0 C201.8 542.5 202.6 543.3 205.1 548.5 C207.6 553.7 211.8 563.6 215.1 570.1 C218.4 576.6 221.3 581.8 225.1 587.6 C228.8 593.5 233.4 600.4 237.6 605.2 C241.8 610.0 246.0 613.4 250.2 616.5 C254.4 619.6 258.1 622.1 262.7 624.0 C267.3 625.9 272.7 627.0 277.7 627.7 C282.7 628.4 287.8 628.6 292.8 628.2 C297.8 627.8 302.8 627.0 307.8 625.2 C312.8 623.5 318.3 620.4 322.9 617.7 C327.5 615.0 331.8 611.4 335.4 608.9 C339.0 606.4 343.1 603.7 344.7 602.7"/>
<rect class="f" x="42.8" y="395.0" width="316.2" height="312.0"/>
<path class="m" d="M93.4 707.5v2.9M176.6 707.5v2.9M259.7 707.5v2.9M343.2 707.5v2.9M42.3 406.3h-2.9M42.3 457.2h-2.9M42.3 508.3h-2.9M42.3 559.5h-2.9M42.3 610.7h-2.9M42.3 661.8h-2.9"/>
<text class="k" text-anchor="middle" x="93.4" y="718.9">15</text>
<text class="k" text-anchor="middle" x="176.6" y="718.9">20</text>
<text class="k" text-anchor="middle" x="259.7" y="718.9">25</text>
<text class="k" text-anchor="middle" x="343.2" y="718.9">30</text>
<text class="k" text-anchor="end" x="37.4" y="409.4">0.15</text>
<text class="k" text-anchor="end" x="37.4" y="460.3">0.10</text>
<text class="k" text-anchor="end" x="37.4" y="511.4">0.05</text>
<text class="k" text-anchor="end" x="37.4" y="562.6">0.00</text>
<text class="k" text-anchor="end" x="37.4" y="613.9">-0.05</text>
<text class="k" text-anchor="end" x="37.4" y="664.9">-0.10</text>
<text class="a" x="200.9" y="732.2">Prepregnancy BMI</text>
<text class="a" transform="translate(12.7 551.0) rotate(-90)">SHAP value</text>
</g>
<g id="panel6">
<text class="t" x="591.2" y="386.8">Dependence plot: Age</text>
<path class="g" d="M519.3 395.0V707.0M663.2 395.0V707.0M433.0 396.6H749.5M433.0 447.1H749.5M433.0 497.4H749.5M433.0 547.9H749.5M433.0 598.6H749.5M433.0 649.4H749.5M433.0 699.9H749.5"/>
<g class="p"><circle cx="528.6" cy="409.0" r="2"/><circle cx="535.9" cy="411.3" r="2"/><circle cx="523.1" cy="424.1" r="2"/><circle cx="529.6" cy="432.6" r="2"/><circle cx="503.1" cy="441.1" r="2"/><circle cx="507.1" cy="440.8" r="2"/><circle cx="502.6" cy="449.1" r="2"/><circle cx="539.9" cy="450.4" r="2"/><circle cx="503.8" cy="463.9" r="2"/><circle cx="514.1" cy="465.4" r="2"/><circle cx="506.6" cy="468.9" r="2"/><circle cx="499.6" cy="471.7" r="2"/><circle cx="497.1" cy="475.9" r="2"/><circle cx="541.9" cy="467.7" r="2"/><circle cx="546.4" cy="467.2" r="2"/><circle cx="528.6" cy="475.4" r="2"/><circle cx="546.9" cy="480.9" r="2"/><circle cx="495.3" cy="483.2" r="2"/><circle cx="494.3" cy="485.2" r="2"/><circle cx="541.9" cy="484.9" r="2"/><circle cx="492.8" cy="491.5" r="2"/><circle cx="504.3" cy="496.7" r="2"/><circle cx="510.8" cy="497.0" r="2"/><circle cx="529.1" cy="494.7" r="2"/><circle cx="526.9" cy="499.2" r="2"/><circle cx="538.4" cy="493.2" r="2"/><circle cx="544.2" cy="494.2" r="2"/><circle cx="498.3" cy="505.7" r="2"/><circle cx="512.6" cy="508.0" r="2"/><circle cx="510.1" cy="510.5" r="2"/><circle cx="515.3" cy="510.0" r="2"/><circle cx="545.7" cy="506.2" r="2"/><circle cx="494.8" cy="519.8" r="2"/><circle cx="530.9" cy="520.5" r="2"/><circle cx="531.6" cy="526.3" r="2"/><circle cx="546.2" cy="522.8" r="2"/><circle cx="519.6" cy="529.5" r="2"/><circle cx="521.1" cy="533.0" r="2"/><circle cx="510.6" cy="536.0" r="2"/><circle cx="514.8" cy="538.8" r="2"/><circle cx="496.6" cy="540.6" r="2"/><circle cx="503.8" cy="540.8" r="2"/><circle cx="546.2" cy="537.5" r="2"/><circle cx="525.1" cy="545.6" r="2"/><circle cx="500.8" cy="554.1" r="2"/><circle cx="517.6" cy="556.1" r="2"/><circle cx="521.9" cy="554.8" r="2"/><circle cx="542.9" cy="555.6" r="2"/><circle cx="688.9" cy="672.7" r="2"/><circle cx="657.5" cy="668.5" r="2"/><circle cx="644.5" cy="678.5" r="2"/><circle cx="690.9" cy="664.1" r="2"/><circle cx="637.7" cy="664.8" r="2"/><circle cx="655.2" cy="677.2" r="2"/><circle cx="686.0" cy="676.0" r="2"/><circle cx="638.2" cy="675.0" r="2"/><circle cx="675.1" cy="672.3" r="2"/><circle cx="690.5" cy="660.9" r="2"/><circle cx="643.6" cy="674.4" r="2"/><circle cx="687.9" cy="672.9" r="2"/><circle cx="652.2" cy="671.2" r="2"/><circle cx="677.8" cy="661.8" r="2"/><circle cx="653.6" cy="664.8" r="2"/><circle cx="642.5" cy="669.1" r="2"/><circle cx="644.9" cy="664.4" r="2"/><circle cx="643.5" cy="672.9" r="2"/><circle cx="636.2" cy="673.7" r="2"/><circle cx="646.4" cy="660.5" r="2"/><circle cx="687.3" cy="664.1" r="2"/><circle cx="687.6" cy="676.5" r="2"/><circle cx="685.1" cy="662.5" r="2"/><circle cx="660.5" cy="661.7" r="2"/><circle cx="687.4" cy="676.1" r="2"/><circle cx="670.6" cy="668.5" r="2"/><circle cx="654.5" cy="675.7" r="2"/><circle cx="662.2" cy="671.9" r="2"/><circle cx="643.5" cy="664.1" r="2"/><circle cx="638.7" cy="673.6" r="2"/><circle cx="666.4" cy="662.6" r="2"/><circle cx="684.1" cy="665.0" r="2"/><circle cx="658.5" cy="662.8" r="2"/><circle cx="650.7" cy="676.0" r="2"/><circle cx="654.2" cy="663.1" r="2"/><circle cx="662.9" cy="666.0" r="2"/><circle cx="685.9" cy="662.0" r="2"/><circle cx="690.1" cy="660.9" r="2"/><circle cx="685.5" cy="672.7" r="2"/><circle cx="647.3" cy="669.0" r="2"/><circle cx="651.5" cy="664.8" r="2"/><circle cx="646.8" cy="666.8" r="2"/><circle cx="690.8" cy="679.1" r="2"/><circle cx="687.2" cy="661.7" r="2"/><circle cx="651.7" cy="677.1" r="2"/><circle cx="638.8" cy="673.8" r="2"/><circle cx="651.9" cy="678.7" r="2"/><circle cx="636.4" cy="675.4" r="2"/><circle cx="654.6" cy="662.5" r="2"/><circle cx="635.7" cy="675.9" r="2"/><circle cx="664.9" cy="663.4" r="2"/><circle cx="659.8" cy="677.4" r="2"/><circle cx="647.7" cy="670.8" r="2"/><circle cx="643.2" cy="663.3" r="2"/><circle cx="678.5" cy="673.6" r="2"/><circle cx="646.5" cy="661.3" r="2"/><circle cx="640.4" cy="671.6" r="2"/><circle cx="663.2" cy="665.1" r="2"/><circle cx="647.0" cy="671.6" r="2"/><circle cx="675.0" cy="675.5" r="2"/><circle cx="668.1" cy="663.7" r="2"/><circle cx="639.2" cy="674.0" r="2"/><circle cx="658.3" cy="673.7" r="2"/><circle cx="638.6" cy="675.5" r="2"/><circle cx="654.2" cy="676.1" r="2"/><circle cx="683.8" cy="669.3" r="2"/><circle cx="636.4" cy="677.4" r="2"/><circle cx="662.1" cy="676.6" r="2"/><circle cx="650.4" cy="663.4" r="2"/><circle cx="681.9" cy="666.9" r="2"/><circle cx="644.7" cy="667.0" r="2"/><circle cx="668.7" cy="659.9" r="2"/><circle cx="664.5" cy="668.4" r="2"/><circle cx="664.3" cy="662.1" r="2"/><circle cx="675.4" cy="675.6" r="2"/><circle cx="683.8" cy="666.0" r="2"/><circle cx="675.2" cy="667.2" r="2"/><circle cx="677.5" cy="661.0" r="2"/><circle cx="684.2" cy="678.2" r="2"/><circle cx="663.1" cy="669.7" r="2"/><circle cx="665.1" cy="670.2" r="2"/><circle cx="636.7" cy="678.5" r="2"/><circle cx="648.0" cy="663.3" r="2"/><circle cx="641.3" cy="664.6" r="2"/><circle cx="681.1" cy="660.4" r="2"/><circle cx="640.9" cy="673.3" r="2"/><circle cx="646.4" cy="660.2" r="2"/><circle cx="669.0" cy="670.9" r="2"/><circle cx="664.7" cy="673.4" r="2"/><circle cx="641.3" cy="676.6" r="2"/><circle cx="675.5" cy="660.7" r="2"/><circle cx="642.4" cy="669.3" r="2"/><circle cx="663.5" cy="665.2" r="2"/><circle cx="642.4" cy="667.6" r="2"/><circle cx="643.2" cy="671.2" r="2"/><circle cx="683.6" cy="662.7" r="2"/><circle cx="667.5" cy="674.2" r="2"/><circle cx="644.7" cy="675.8" r="2"/><circle cx="687.8" cy="667.3" r="2"/><circle cx="659.0" cy="676.0" r="2"/><circle cx="664.9" cy="667.5" r="2"/><circle cx="688.1" cy="674.8" r="2"/><circle cx="654.4" cy="664.5" r="2"/><circle cx="654.2" cy="668.2" r="2"/><circle cx="690.3" cy="675.3" r="2"/><circle cx="686.5" cy="675.5" r="2"/><circle cx="682.8" cy="660.8" r="2"/><circle cx="664.4" cy="678.3" r="2"/><circle cx="687.7" cy="664.6" r="2"/><circle cx="659.1" cy="672.0" r="2"/><circle cx="655.9" cy="670.1" r="2"/><circle cx="639.4" cy="668.2" r="2"/><circle cx="663.7" cy="660.2" r="2"/><circle cx="643.3" cy="678.5" r="2"/><circle cx="678.9" cy="677.9" r="2"/><circle cx="670.9" cy="675.4" r="2"/><circle cx="684.9" cy="676.9" r="2"/><circle cx="637.5" cy="672.2" r="2"/><circle cx="650.4" cy="672.9" r="2"/><circle cx="650.8" cy="670.3" r="2"/><circle cx="687.1" cy="671.8" r="2"/><circle cx="649.5" cy="669.9" r="2"/><circle cx="659.7" cy="678.2" r="2"/><circle cx="651.6" cy="665.7" r="2"/><circle cx="671.7" cy="662.1" r="2"/><circle cx="668.7" cy="678.3" r="2"/><circle cx="664.2" cy="665.0" r="2"/><circle cx="661.6" cy="670.1" r="2"/><circle cx="643.8" cy="662.2" r="2"/><circle cx="642.9" cy="665.5" r="2"/><circle cx="658.2" cy="665.4" r="2"/><circle cx="649.1" cy="661.5" r="2"/><circle cx="666.0" cy="676.0" r="2"/><circle cx="669.6" cy="670.8" r="2"/><circle cx="671.8" cy="663.7" r="2"/><circle cx="675.2" cy="668.7" r="2"/><circle cx="666.1" cy="671.6" r="2"/><circle cx="661.7" cy="665.8" r="2"/><circle cx="649.1" cy="664.1" r="2"/><circle cx="664.1" cy="667.2" r="2"/><circle cx="668.2" cy="660.0" r="2"/><circle cx="655.2" cy="676.5" r="2"/><circle cx="648.9" cy="670.6" r="2"/><circle cx="663.0" cy="665.3" r="2"/><circle cx="690.6" cy="665.5" r="2"/><circle cx="678.6" cy="662.9" r="2"/><circle cx="639.3" cy="676.6" r="2"/><circle cx="660.1" cy="661.0" r="2"/><circle cx="657.2" cy="668.3" r="2"/><circle cx="676.6" cy="661.9" r="2"/><circle cx="648.1" cy="678.3" r="2"/><circle cx="676.7" cy="662.8" r="2"/><circle cx="654.3" cy="666.6" r="2"/><circle cx="673.2" cy="671.7" r="2"/><circle cx="683.0" cy="675.7" r="2"/><circle cx="664.4" cy="674.1" r="2"/><circle cx="677.0" cy="674.5" r="2"/><circle cx="662.1" cy="675.0" r="2"/><circle cx="675.1" cy="677.5" r="2"/><circle cx="642.6" cy="676.6" r="2"/><circle cx="635.8" cy="674.6" r="2"/><circle cx="668.2" cy="669.4" r="2"/><circle cx="689.3" cy="670.9" r="2"/><circle cx="658.9" cy="674.9" r="2"/><circle cx="684.2" cy="671.5" r="2"/><circle cx="656.7" cy="668.5" r="2"/><circle cx="661.1" cy="673.8" r="2"/><circle cx="651.9" cy="667.4" r="2"/><circle cx="666.5" cy="667.2" r="2"/><circle cx="653.5" cy="675.0" r="2"/><circle cx="682.9" cy="669.5" r="2"/><circle cx="660.3" cy="663.4" r="2"/><circle cx="652.5" cy="662.6" r="2"/><circle cx="667.6" cy="671.0" r="2"/><circle cx="640.5" cy="677.6" r="2"/><circle cx="653.6" cy="676.1" r="2"/><circle cx="682.3" cy="678.3" r="2"/><circle cx="646.9" cy="668.0" r="2"/><circle cx="686.3" cy="660.0" r="2"/><circle cx="638.2" cy="670.7" r="2"/><circle cx="663.3" cy="677.6" r="2"/><circle cx="678.7" cy="670.2" r="2"/><circle cx="691.2" cy="669.8" r="2"/><circle cx="664.4" cy="673.0" r="2"/><circle cx="657.3" cy="666.7" r="2"/><circle cx="668.7" cy="666.6" r="2"/><circle cx="688.4" cy="672.9" r="2"/><circle cx="664.8" cy="661.7" r="2"/><circle cx="656.4" cy="667.6" r="2"/><circle cx="666.9" cy="670.9" r="2"/><circle cx="684.6" cy="678.4" r="2"/><circle cx="662.7" cy="668.3" r="2"/><circle cx="670.4" cy="679.0" r="2"/><circle cx="654.7" cy="670.0" r="2"/><circle cx="681.1" cy="663.1" r="2"/><circle cx="653.3" cy="678.7" r="2"/><circle cx="681.6" cy="669.7" r="2"/><circle cx="641.7" cy="677.1" r="2"/><circle cx="674.0" cy="675.7" r="2"/><circle cx="690.8" cy="677.0" r="2"/><circle cx="659.0" cy="662.8" r="2"/><circle cx="651.7" cy="669.7" r="2"/><circle cx="663.7" cy="663.4" r="2"/><circle cx="645.7" cy="672.0" r="2"/><circle cx="669.2" cy="666.6" r="2"/><circle cx="691.0" cy="672.1" r="2"/><circle cx="637.9" cy="667.8" r="2"/><circle cx="679.5" cy="665.7" r="2"/><circle cx="674.1" cy="659.9" r="2"/><circle cx="652.5" cy="676.1" r="2"/><circle cx="668.2" cy="672.7" r="2"/><circle cx="646.5" cy="669.4" r="2"/><circle cx="666.4" cy="664.9" r="2"/><circle cx="671.6" cy="670.1" r="2"/><circle cx="691.2" cy="670.9" r="2"/><circle cx="658.5" cy="662.2" r="2"/><circle cx="644.3" cy="674.5" r="2"/><circle cx="641.5" cy="661.7" r="2"/><circle cx="645.1" cy="669.9" r="2"/><circle cx="681.5" cy="671.6" r="2"/><circle cx="680.5" cy="661.0" r="2"/><circle cx="636.2" cy="674.7" r="2"/><circle cx="653.6" cy="673.6" r="2"/><circle cx="655.3" cy="663.1" r="2"/><circle cx="650.4" cy="661.7" r="2"/><circle cx="686.0" cy="671.1" r="2"/><circle cx="655.0" cy="668.5" r="2"/><circle cx="657.1" cy="660.9" r="2"/><circle cx="685.2" cy="671.1" r="2"/><circle cx="689.1" cy="668.3" r="2"/><circle cx="670.1" cy="664.6" r="2"/><circle cx="638.0" cy="677.8" r="2"/><circle cx="683.2" cy="665.9" r="2"/><circle cx="685.7" cy="675.6" r="2"/><circle cx="652.5" cy="671.4" r="2"/><circle cx="689.1" cy="669.4" r="2"/><circle cx="688.5" cy="664.5" r="2"/><circle cx="657.3" cy="673.7" r="2"/><circle cx="647.9" cy="665.8" r="2"/><circle cx="684.4" cy="669.2" r="2"/><circle cx="679.8" cy="664.5" r="2"/><circle cx="645.2" cy="666.7" r="2"/><circle cx="646.0" cy="678.6" r="2"/><circle cx="651.8" cy="670.7" r="2"/><circle cx="642.0" cy="670.1" r="2"/><circle cx="657.1" cy="667.6" r="2"/><circle cx="639.2" cy="662.2" r="2"/><circle cx="681.6" cy="666.6" r="2"/><circle cx="649.2" cy="663.5" r="2"/><circle cx="651.4" cy="664.4" r="2"/><circle cx="637.5" cy="672.6" r="2"/><circle cx="654.6" cy="662.8" r="2"/><circle cx="674.9" cy="661.6" r="2"/><circle cx="650.6" cy="675.9" r="2"/><circle cx="642.7" cy="668.4" r="2"/><circle cx="682.2" cy="675.4" r="2"/><circle cx="644.4" cy="666.6" r="2"/><circle cx="675.8" cy="667.1" r="2"/><circle cx="689.0" cy="663.8" r="2"/><circle cx="688.6" cy="669.6" r="2"/><circle cx="648.2" cy="668.6" r="2"/><circle cx="642.9" cy="673.5" r="2"/><circle cx="650.1" cy="677.2" r="2"/><circle cx="668.3" cy="666.9" r="2"/><circle cx="649.3" cy="671.6" r="2"/><circle cx="647.4" cy="676.7" r="2"/><circle cx="642.4" cy="669.7" r="2"/><circle cx="665.8" cy="665.0" r="2"/><circle cx="678.6" cy="667.2" r="2"/><circle cx="672.2" cy="670.8" r="2"/><circle cx="652.9" cy="667.3" r="2"/><circle cx="640.3" cy="663.2" r="2"/><circle cx="683.0" cy="666.0" r="2"/><circle cx="672.5" cy="661.9" r="2"/><circle cx="666.9" cy="666.8" r="2"/><circle cx="663.5" cy="665.5" r="2"/><circle cx="639.2" cy="665.8" r="2"/><circle cx="648.2" cy="662.2" r="2"/><circle cx="675.5" cy="665.3" r="2"/><circle cx="658.0" cy="677.4" r="2"/><circle cx="678.8" cy="676.9" r="2"/><circle cx="683.6" cy="662.4" r="2"/><circle cx="651.0" cy="660.4" r="2"/><circle cx="673.5" cy="672.6" r="2"/><circle cx="655.1" cy="667.8" r="2"/><circle cx="672.3" cy="673.3" r="2"/><circle cx="649.4" cy="676.2" r="2"/><circle cx="655.2" cy="672.0" r="2"/><circle cx="645.7" cy="662.0" r="2"/><circle cx="686.5" cy="674.0" r="2"/><circle cx="675.3" cy="660.6" r="2"/><circle cx="637.8" cy="662.9" r="2"/><circle cx="646.6" cy="665.7" r="2"/><circle cx="656.8" cy="660.6" r="2"/><circle cx="652.9" cy="672.1" r="2"/><circle cx="645.6" cy="676.0" r="2"/><circle cx="667.4" cy="673.6" r="2"/><circle cx="649.8" cy="668.2" r="2"/><circle cx="673.7" cy="666.6" r="2"/><circle cx="635.6" cy="675.9" r="2"/><circle cx="678.9" cy="665.3" r="2"/><circle cx="637.9" cy="676.3" r="2"/><circle cx="669.4" cy="660.7" r="2"/><circle cx="649.2" cy="662.0" r="2"/><circle cx="679.7" cy="663.9" r="2"/><circle cx="686.6" cy="674.3" r="2"/><circle cx="640.4" cy="673.2" r="2"/><circle cx="657.5" cy="674.2" r="2"/><circle cx="681.8" cy="665.2" r="2"/><circle cx="640.6" cy="678.1" r="2"/><circle cx="659.2" cy="677.8" r="2"/><circle cx="674.1" cy="674.1" r="2"/><circle cx="681.8" cy="671.9" r="2"/><circle cx="660.8" cy="660.9" r="2"/><circle cx="674.5" cy="668.1" r="2"/><circle cx="664.1" cy="677.7" r="2"/><circle cx="642.7" cy="674.5" r="2"/><circle cx="638.0" cy="673.4" r="2"/><circle cx="680.5" cy="664.9" r="2"/><circle cx="666.0" cy="678.5" r="2"/><circle cx="671.1" cy="670.3" r="2"/><circle cx="649.5" cy="661.0" r="2"/><circle cx="655.5" cy="667.8" r="2"/><circle cx="646.8" cy="665.8" r="2"/><circle cx="643.2" cy="673.5" r="2"/><circle cx="672.9" cy="664.4" r="2"/><circle cx="649.0" cy="669.8" r="2"/><circle cx="660.4" cy="677.9" r="2"/><circle cx="655.2" cy="665.6" r="2"/><circle cx="684.9" cy="662.6" r="2"/><circle cx="667.0" cy="666.3" r="2"/><circle cx="681.0" cy="670.4" r="2"/><circle cx="678.0" cy="663.1" r="2"/><circle cx="672.7" cy="671.4" r="2"/><circle cx="661.3" cy="674.6" r="2"/><circle cx="681.9" cy="662.0" r="2"/><circle cx="651.7" cy="666.8" r="2"/><circle cx="647.1" cy="661.0" r="2"/><circle cx="651.2" cy="663.6" r="2"/><circle cx="674.7" cy="668.5" r="2"/><circle cx="641.8" cy="666.1" r="2"/><circle cx="661.7" cy="666.8" r="2"/><circle cx="644.9" cy="661.2" r="2"/><circle cx="636.1" cy="679.0" r="2"/><circle cx="677.4" cy="661.4" r="2"/><circle cx="675.6" cy="678.7" r="2"/><circle cx="667.0" cy="661.9" r="2"/><circle cx="662.8" cy="668.2" r="2"/><circle cx="646.1" cy="670.3" r="2"/><circle cx="636.0" cy="677.6" r="2"/><circle cx="671.5" cy="671.9" r="2"/><circle cx="687.7" cy="672.4" r="2"/><circle cx="649.6" cy="664.6" r="2"/><circle cx="643.3" cy="660.3" r="2"/><circle cx="678.7" cy="676.0" r="2"/><circle cx="652.1" cy="663.4" r="2"/><circle cx="671.1" cy="676.1" r="2"/><circle cx="687.2" cy="663.1" r="2"/><circle cx="679.3" cy="675.8" r="2"/><circle cx="677.0" cy="666.1" r="2"/><circle cx="645.8" cy="675.7" r="2"/><circle cx="653.4" cy="666.9" r="2"/><circle cx="666.3" cy="666.9" r="2"/><circle cx="681.9" cy="664.4" r="2"/><circle cx="637.8" cy="670.8" r="2"/><circle cx="670.6" cy="675.6" r="2"/><circle cx="674.9" cy="677.3" r="2"/><circle cx="688.3" cy="669.4" r="2"/><circle cx="663.4" cy="662.9" r="2"/><circle cx="652.3" cy="671.0" r="2"/><circle cx="640.0" cy="673.1" r="2"/><circle cx="644.7" cy="668.4" r="2"/><circle cx="689.6" cy="661.5" r="2"/><circle cx="637.8" cy="668.3" r="2"/><circle cx="646.2" cy="673.8" r="2"/><circle cx="635.7" cy="676.0" r="2"/><circle cx="683.3" cy="675.0" r="2"/><circle cx="659.3" cy="665.3" r="2"/><circle cx="672.5" cy="669.7" r="2"/><circle cx="659.0" cy="666.4" r="2"/><circle cx="660.0" cy="672.7" r="2"/><circle cx="681.6" cy="677.3" r="2"/><circle cx="644.7" cy="665.5" r="2"/><circle cx="660.3" cy="670.7" r="2"/><circle cx="655.0" cy="663.6" r="2"/><circle cx="640.3" cy="666.1" r="2"/><circle cx="661.2" cy="678.6" r="2"/><circle cx="686.2" cy="676.5" r="2"/><circle cx="689.9" cy="678.4" r="2"/><circle cx="670.1" cy="675.5" r="2"/><circle cx="638.9" cy="672.9" r="2"/><circle cx="669.5" cy="665.5" r="2"/><circle cx="667.4" cy="678.2" r="2"/><circle cx="662.4" cy="672.3" r="2"/><circle cx="652.2" cy="666.4" r="2"/><circle cx="684.9" cy="660.4" r="2"/><circle cx="646.1" cy="672.9" r="2"/><circle cx="660.5" cy="661.5" r="2"/><circle cx="672.4" cy="667.0" r="2"/><circle cx="667.9" cy="667.9" r="2"/><circle cx="665.1" cy="670.7" r="2"/><circle cx="657.7" cy="662.0" r="2"/><circle cx="645.6" cy="677.0" r="2"/><circle cx="666.1" cy="662.0" r="2"/><circle cx="683.6" cy="664.7" r="2"/><circle cx="640.8" cy="670.1" r="2"/><circle cx="649.6" cy="669.3" r="2"/><circle cx="666.5" cy="664.2" r="2"/><circle cx="667.5" cy="662.0" r="2"/><circle cx="664.2" cy="671.2" r="2"/><circle cx="640.0" cy="667.7" r="2"/><circle cx="639.6" cy="668.3" r="2"/><circle cx="683.7" cy="670.4" r="2"/><circle cx="675.4" cy="674.4" r="2"/><circle cx="641.9" cy="678.9" r="2"/><circle cx="675.8" cy="661.8" r="2"/><circle cx="681.9" cy="667.4" r="2"/><circle cx="645.1" cy="678.3" r="2"/><circle cx="667.0" cy="674.8" r="2"/><circle cx="643.2" cy="674.8" r="2"/><circle cx="639.4" cy="680.1" r="2"/><circle cx="656.7" cy="679.2" r="2"/><circle cx="668.9" cy="680.0" r="2"/><circle cx="652.7" cy="682.0" r="2"/><circle cx="659.6" cy="682.7" r="2"/><circle cx="670.3" cy="682.7" r="2"/><circle cx="667.1" cy="682.8" r="2"/><circle cx="684.0" cy="679.8" r="2"/><circle cx="677.2" cy="680.5" r="2"/><circle cx="678.2" cy="681.9" r="2"/><circle cx="681.6" cy="679.6" r="2"/><circle cx="656.7" cy="682.1" r="2"/><circle cx="688.3" cy="682.1" r="2"/><circle cx="638.6" cy="681.6" r="2"/><circle cx="641.7" cy="681.4" r="2"/><circle cx="680.3" cy="679.6" r="2"/><circle cx="687.0" cy="681.9" r="2"/><circle cx="650.2" cy="679.9" r="2"/><circle cx="660.8" cy="682.5" r="2"/><circle cx="668.2" cy="679.6" r="2"/><circle cx="637.4" cy="679.6" r="2"/><circle cx="680.2" cy="679.9" r="2"/><circle cx="666.7" cy="680.3" r="2"/><circle cx="674.0" cy="680.7" r="2"/><circle cx="644.2" cy="682.7" r="2"/><circle cx="665.8" cy="681.9" r="2"/><circle cx="680.6" cy="683.0" r="2"/><circle cx="637.0" cy="680.5" r="2"/><circle cx="644.5" cy="681.2" r="2"/><circle cx="684.2" cy="682.4" r="2"/><circle cx="638.2" cy="679.9" r="2"/><circle cx="681.2" cy="681.9" r="2"/><circle cx="657.8" cy="681.1" r="2"/><circle cx="644.9" cy="682.6" r="2"/><circle cx="657.8" cy="682.7" r="2"/><circle cx="669.8" cy="679.4" r="2"/><circle cx="654.3" cy="680.0" r="2"/><circle cx="685.3" cy="681.5" r="2"/><circle cx="638.7" cy="679.8" r="2"/><circle cx="656.1" cy="681.0" r="2"/><circle cx="667.9" cy="680.7" r="2"/><circle cx="655.7" cy="679.1" r="2"/><circle cx="668.0" cy="680.5" r="2"/><circle cx="637.4" cy="681.0" r="2"/><circle cx="690.4" cy="679.3" r="2"/><circle cx="644.3" cy="681.8" r="2"/><circle cx="651.2" cy="680.2" r="2"/><circle cx="663.7" cy="680.2" r="2"/><circle cx="667.5" cy="681.3" r="2"/><circle cx="688.8" cy="683.2" r="2"/><circle cx="638.1" cy="681.4" r="2"/><circle cx="678.6" cy="682.7" r="2"/><circle cx="678.7" cy="681.7" r="2"/><circle cx="671.1" cy="680.6" r="2"/><circle cx="651.7" cy="682.4" r="2"/><circle cx="684.1" cy="682.9" r="2"/><circle cx="673.6" cy="680.4" r="2"/><circle cx="678.1" cy="682.1" r="2"/><circle cx="664.2" cy="681.7" r="2"/><circle cx="655.5" cy="681.4" r="2"/><circle cx="639.3" cy="685.7" r="2"/><circle cx="644.9" cy="688.6" r="2"/><circle cx="646.9" cy="686.7" r="2"/><circle cx="650.5" cy="693.1" r="2"/><circle cx="669.1" cy="690.5" r="2"/><circle cx="671.8" cy="688.8" r="2"/><circle cx="684.2" cy="691.3" r="2"/><circle cx="668.3" cy="656.3" r="2"/><circle cx="655.6" cy="657.3" r="2"/><circle cx="676.4" cy="658.3" r="2"/><circle cx="681.5" cy="656.3" r="2"/><circle cx="686.6" cy="656.3" r="2"/><circle cx="692.1" cy="657.8" r="2"/><circle cx="638.8" cy="659.3" r="2"/><circle cx="652.0" cy="684.7" r="2"/><circle cx="661.7" cy="683.7" r="2"/><circle cx="676.9" cy="684.7" r="2"/><circle cx="683.5" cy="684.7" r="2"/><circle cx="689.1" cy="684.7" r="2"/><circle cx="692.1" cy="681.7" r="2"/></g>
<rect class="f" x="433.0" y="395.0" width="316.5" height="312.0"/>
<path class="m" d="M519.3 707.5v2.9M663.2 707.5v2.9M432.5 396.6h-2.9M432.5 447.1h-2.9M432.5 497.4h-2.9M432.5 547.9h-2.9M432.5 598.6h-2.9M432.5 649.4h-2.9M432.5 699.9h-2.9"/>
<text class="k" text-anchor="middle" x="519.3" y="718.9">1</text>
<text class="k" text-anchor="middle" x="663.2" y="718.9">2</text>
<text class="k" text-anchor="end" x="427.6" y="399.8">0.25</text>
<text class="k" text-anchor="end" x="427.6" y="450.2">0.20</text>
<text class="k" text-anchor="end" x="427.6" y="500.5">0.15</text>
<text class="k" text-anchor="end" x="427.6" y="551.0">0.10</text>
<text class="k" text-anchor="end" x="427.6" y="601.8">0.05</text>
<text class="k" text-anchor="end" x="427.6" y="652.5">0.00</text>
<text class="k" text-anchor="end" x="427.6" y="703.0">-0.05</text>
<text class="a" x="591.2" y="732.2">Age</text>
<text class="a" transform="translate(403.0 551.0) rotate(-90)">SHAP value</text>
</g>
<g id="panel7">
<text class="t" x="982.2" y="386.8">Dependence plot: Severity</text>
<path class="g" d="M910.4 395.0V707.0M1053.9 395.0V707.0M824.0 398.4H1140.5M824.0 489.3H1140.5M824.0 580.5H1140.5M824.0 671.3H1140.5"/>
<g class="p"><circle cx="894.3" cy="408.8" r="2"/><circle cx="896.8" cy="434.8" r="2"/><circle cx="897.6" cy="440.6" r="2"/><circle cx="894.6" cy="445.1" r="2"/><circle cx="886.3" cy="446.9" r="2"/><circle cx="890.3" cy="449.1" r="2"/><circle cx="926.4" cy="433.3" r="2"/><circle cx="932.4" cy="433.3" r="2"/><circle cx="913.9" cy="444.4" r="2"/><circle cx="925.6" cy="449.4" r="2"/><circle cx="922.9" cy="452.6" r="2"/><circle cx="919.6" cy="455.4" r="2"/><circle cx="937.2" cy="453.6" r="2"/><circle cx="938.4" cy="461.4" r="2"/><circle cx="938.2" cy="463.9" r="2"/><circle cx="886.3" cy="466.1" r="2"/><circle cx="895.1" cy="467.9" r="2"/><circle cx="899.3" cy="467.9" r="2"/><circle cx="892.6" cy="471.4" r="2"/><circle cx="901.8" cy="470.2" r="2"/><circle cx="905.6" cy="470.9" r="2"/><circle cx="897.6" cy="474.7" r="2"/><circle cx="902.6" cy="474.7" r="2"/><circle cx="905.6" cy="474.7" r="2"/><circle cx="902.6" cy="477.2" r="2"/><circle cx="916.4" cy="466.9" r="2"/><circle cx="920.1" cy="467.9" r="2"/><circle cx="922.6" cy="469.4" r="2"/><circle cx="925.1" cy="470.9" r="2"/><circle cx="923.1" cy="472.2" r="2"/><circle cx="918.9" cy="475.2" r="2"/><circle cx="936.4" cy="469.4" r="2"/><circle cx="934.7" cy="475.7" r="2"/><circle cx="938.2" cy="478.9" r="2"/><circle cx="933.2" cy="481.4" r="2"/><circle cx="937.7" cy="481.9" r="2"/><circle cx="921.9" cy="480.2" r="2"/><circle cx="897.6" cy="480.2" r="2"/><circle cx="893.8" cy="480.9" r="2"/><circle cx="890.6" cy="483.2" r="2"/><circle cx="908.9" cy="482.2" r="2"/><circle cx="906.3" cy="484.7" r="2"/><circle cx="900.1" cy="485.9" r="2"/><circle cx="903.8" cy="487.7" r="2"/><circle cx="889.6" cy="485.9" r="2"/><circle cx="885.1" cy="489.4" r="2"/><circle cx="891.3" cy="490.2" r="2"/><circle cx="912.6" cy="487.7" r="2"/><circle cx="927.6" cy="485.2" r="2"/><circle cx="932.7" cy="487.7" r="2"/><circle cx="881.8" cy="494.0" r="2"/><circle cx="887.1" cy="496.0" r="2"/><circle cx="935.2" cy="494.7" r="2"/><circle cx="922.6" cy="498.5" r="2"/><circle cx="916.4" cy="499.0" r="2"/><circle cx="906.3" cy="497.7" r="2"/><circle cx="903.8" cy="499.7" r="2"/><circle cx="895.1" cy="499.0" r="2"/><circle cx="935.2" cy="500.2" r="2"/><circle cx="893.8" cy="502.7" r="2"/><circle cx="891.3" cy="504.0" r="2"/><circle cx="889.6" cy="506.0" r="2"/><circle cx="899.6" cy="504.7" r="2"/><circle cx="908.9" cy="505.2" r="2"/><circle cx="932.7" cy="505.2" r="2"/><circle cx="930.1" cy="506.0" r="2"/><circle cx="936.4" cy="507.7" r="2"/><circle cx="888.1" cy="508.5" r="2"/><circle cx="893.8" cy="509.0" r="2"/><circle cx="900.1" cy="511.0" r="2"/><circle cx="910.1" cy="509.0" r="2"/><circle cx="913.9" cy="510.7" r="2"/><circle cx="916.4" cy="511.5" r="2"/><circle cx="918.9" cy="510.7" r="2"/><circle cx="922.6" cy="509.0" r="2"/><circle cx="926.4" cy="509.0" r="2"/><circle cx="938.2" cy="509.7" r="2"/><circle cx="937.2" cy="511.5" r="2"/><circle cx="900.1" cy="514.0" r="2"/><circle cx="907.6" cy="515.3" r="2"/><circle cx="891.3" cy="516.0" r="2"/><circle cx="905.1" cy="517.0" r="2"/><circle cx="896.3" cy="517.8" r="2"/><circle cx="901.3" cy="518.5" r="2"/><circle cx="910.1" cy="516.0" r="2"/><circle cx="917.1" cy="515.3" r="2"/><circle cx="918.9" cy="517.8" r="2"/><circle cx="935.2" cy="515.3" r="2"/><circle cx="926.4" cy="518.5" r="2"/><circle cx="936.4" cy="519.5" r="2"/><circle cx="885.1" cy="521.5" r="2"/><circle cx="892.1" cy="522.3" r="2"/><circle cx="887.1" cy="524.0" r="2"/><circle cx="896.3" cy="524.0" r="2"/><circle cx="897.6" cy="525.8" r="2"/><circle cx="906.3" cy="521.0" r="2"/><circle cx="910.1" cy="521.0" r="2"/><circle cx="918.9" cy="525.3" r="2"/><circle cx="923.9" cy="523.3" r="2"/><circle cx="928.9" cy="524.5" r="2"/><circle cx="934.7" cy="521.5" r="2"/><circle cx="884.6" cy="527.0" r="2"/><circle cx="887.6" cy="527.8" r="2"/><circle cx="898.1" cy="527.8" r="2"/><circle cx="903.8" cy="527.8" r="2"/><circle cx="908.9" cy="527.0" r="2"/><circle cx="913.9" cy="527.8" r="2"/><circle cx="885.1" cy="530.3" r="2"/><circle cx="888.8" cy="531.5" r="2"/><circle cx="905.1" cy="530.3" r="2"/><circle cx="908.9" cy="531.5" r="2"/><circle cx="916.4" cy="530.3" r="2"/><circle cx="918.9" cy="531.0" r="2"/><circle cx="925.1" cy="531.5" r="2"/><circle cx="927.6" cy="532.3" r="2"/><circle cx="931.4" cy="530.3" r="2"/><circle cx="938.9" cy="532.0" r="2"/><circle cx="884.3" cy="535.3" r="2"/><circle cx="888.8" cy="534.0" r="2"/><circle cx="903.8" cy="535.8" r="2"/><circle cx="911.4" cy="533.5" r="2"/><circle cx="910.1" cy="535.3" r="2"/><circle cx="937.7" cy="534.0" r="2"/><circle cx="933.9" cy="535.3" r="2"/><circle cx="931.4" cy="539.1" r="2"/><circle cx="890.1" cy="539.1" r="2"/><circle cx="902.1" cy="538.3" r="2"/><circle cx="912.6" cy="539.1" r="2"/><circle cx="913.9" cy="537.3" r="2"/><circle cx="892.1" cy="543.6" r="2"/><circle cx="900.1" cy="544.1" r="2"/><circle cx="907.6" cy="543.6" r="2"/><circle cx="908.9" cy="545.3" r="2"/><circle cx="883.0" cy="546.6" r="2"/><circle cx="906.3" cy="547.1" r="2"/><circle cx="920.1" cy="546.3" r="2"/><circle cx="907.6" cy="550.3" r="2"/><circle cx="922.6" cy="550.3" r="2"/><circle cx="1029.8" cy="603.7" r="2"/><circle cx="1033.9" cy="601.2" r="2"/><circle cx="1043.0" cy="600.8" r="2"/><circle cx="1051.4" cy="601.7" r="2"/><circle cx="1075.0" cy="605.0" r="2"/><circle cx="1069.3" cy="606.1" r="2"/><circle cx="1079.9" cy="609.4" r="2"/><circle cx="1025.8" cy="650.8" r="2"/><circle cx="1029.5" cy="642.7" r="2"/><circle cx="1035.2" cy="644.3" r="2"/><circle cx="1031.1" cy="650.0" r="2"/><circle cx="1032.7" cy="652.4" r="2"/><circle cx="1027.9" cy="654.9" r="2"/><circle cx="1031.9" cy="657.3" r="2"/><circle cx="1036.0" cy="656.5" r="2"/><circle cx="1040.1" cy="653.2" r="2"/><circle cx="1042.5" cy="649.2" r="2"/><circle cx="1044.1" cy="654.9" r="2"/><circle cx="1042.5" cy="658.1" r="2"/><circle cx="1037.6" cy="663.0" r="2"/><circle cx="1046.6" cy="661.4" r="2"/><circle cx="1031.4" cy="667.0" r="2"/><circle cx="1044.9" cy="665.4" r="2"/><circle cx="1049.0" cy="667.9" r="2"/><circle cx="1053.1" cy="667.9" r="2"/><circle cx="1040.9" cy="671.1" r="2"/><circle cx="1053.1" cy="673.2" r="2"/><circle cx="1044.9" cy="676.8" r="2"/><circle cx="1062.0" cy="651.6" r="2"/><circle cx="1061.2" cy="659.7" r="2"/><circle cx="1062.0" cy="661.4" r="2"/><circle cx="1062.8" cy="660.5" r="2"/><circle cx="1062.0" cy="663.0" r="2"/><circle cx="1070.1" cy="650.0" r="2"/><circle cx="1075.0" cy="652.4" r="2"/><circle cx="1076.6" cy="654.9" r="2"/><circle cx="1079.0" cy="659.7" r="2"/><circle cx="1075.0" cy="663.5" r="2"/><circle cx="1079.0" cy="671.9" r="2"/><circle cx="1079.9" cy="672.7" r="2"/><circle cx="1067.2" cy="681.2" r="2"/><circle cx="1073.4" cy="693.0" r="2"/><circle cx="1082.3" cy="641.9" r="2"/><circle cx="1079.9" cy="646.7" r="2"/><circle cx="1082.3" cy="631.3" r="2"/><circle cx="1083.1" cy="619.1" r="2"/><circle cx="1049.3" cy="608.4" r="2"/><circle cx="1045.4" cy="619.6" r="2"/><circle cx="1082.4" cy="626.3" r="2"/><circle cx="1047.1" cy="616.2" r="2"/><circle cx="1039.6" cy="620.7" r="2"/><circle cx="1034.0" cy="606.1" r="2"/><circle cx="1075.8" cy="625.1" r="2"/><circle cx="1051.6" cy="630.0" r="2"/><circle cx="1043.4" cy="613.0" r="2"/><circle cx="1030.0" cy="618.6" r="2"/><circle cx="1043.8" cy="636.7" r="2"/><circle cx="1079.5" cy="620.3" r="2"/><circle cx="1078.6" cy="630.6" r="2"/><circle cx="1030.8" cy="613.4" r="2"/><circle cx="1070.3" cy="624.0" r="2"/><circle cx="1075.6" cy="608.7" r="2"/><circle cx="1040.9" cy="606.8" r="2"/><circle cx="1035.6" cy="617.2" r="2"/><circle cx="1066.3" cy="615.1" r="2"/><circle cx="1049.0" cy="614.3" r="2"/><circle cx="1060.5" cy="642.6" r="2"/><circle cx="1037.4" cy="637.0" r="2"/><circle cx="1034.0" cy="613.8" r="2"/><circle cx="1056.8" cy="643.1" r="2"/><circle cx="1078.7" cy="614.8" r="2"/><circle cx="1044.8" cy="637.7" r="2"/><circle cx="1049.3" cy="634.7" r="2"/><circle cx="1045.5" cy="608.2" r="2"/><circle cx="1061.9" cy="620.0" r="2"/><circle cx="1054.4" cy="631.2" r="2"/><circle cx="1040.9" cy="625.5" r="2"/><circle cx="1027.0" cy="645.2" r="2"/><circle cx="1082.4" cy="608.2" r="2"/><circle cx="1031.6" cy="612.4" r="2"/><circle cx="1072.5" cy="623.8" r="2"/><circle cx="1056.9" cy="630.8" r="2"/><circle cx="1057.8" cy="633.8" r="2"/><circle cx="1060.5" cy="619.9" r="2"/><circle cx="1068.4" cy="616.8" r="2"/><circle cx="1066.7" cy="638.3" r="2"/><circle cx="1043.8" cy="638.7" r="2"/><circle cx="1052.0" cy="617.6" r="2"/><circle cx="1026.8" cy="626.0" r="2"/><circle cx="1082.5" cy="615.5" r="2"/><circle cx="1069.3" cy="609.6" r="2"/><circle cx="1027.8" cy="611.5" r="2"/><circle cx="1029.7" cy="627.2" r="2"/><circle cx="1057.8" cy="613.5" r="2"/><circle cx="1079.7" cy="621.4" r="2"/><circle cx="1071.8" cy="625.4" r="2"/><circle cx="1067.9" cy="608.6" r="2"/><circle cx="1062.9" cy="622.9" r="2"/><circle cx="1058.3" cy="623.2" r="2"/><circle cx="1078.5" cy="646.0" r="2"/><circle cx="1039.0" cy="616.5" r="2"/><circle cx="1041.2" cy="624.3" r="2"/><circle cx="1039.4" cy="614.4" r="2"/><circle cx="1069.4" cy="633.1" r="2"/><circle cx="1058.6" cy="612.5" r="2"/><circle cx="1045.1" cy="626.5" r="2"/><circle cx="1076.9" cy="612.7" r="2"/><circle cx="1065.1" cy="631.2" r="2"/><circle cx="1076.4" cy="614.7" r="2"/><circle cx="1076.5" cy="621.1" r="2"/><circle cx="1027.6" cy="610.5" r="2"/><circle cx="1081.6" cy="606.2" r="2"/><circle cx="1078.1" cy="612.2" r="2"/><circle cx="1068.1" cy="609.9" r="2"/><circle cx="1035.8" cy="634.9" r="2"/><circle cx="1031.4" cy="620.2" r="2"/><circle cx="1078.5" cy="636.3" r="2"/><circle cx="1081.9" cy="607.2" r="2"/><circle cx="1039.6" cy="639.5" r="2"/><circle cx="1028.4" cy="627.3" r="2"/><circle cx="1039.4" cy="624.1" r="2"/><circle cx="1032.2" cy="606.6" r="2"/><circle cx="1076.2" cy="610.9" r="2"/><circle cx="1050.6" cy="613.4" r="2"/><circle cx="1065.2" cy="612.1" r="2"/><circle cx="1068.2" cy="627.1" r="2"/><circle cx="1032.6" cy="620.8" r="2"/><circle cx="1038.5" cy="647.0" r="2"/><circle cx="1030.2" cy="607.6" r="2"/><circle cx="1055.2" cy="623.2" r="2"/><circle cx="1057.9" cy="621.2" r="2"/><circle cx="1026.8" cy="635.1" r="2"/><circle cx="1063.4" cy="628.9" r="2"/><circle cx="1057.5" cy="635.2" r="2"/><circle cx="1082.1" cy="643.0" r="2"/><circle cx="1048.9" cy="619.3" r="2"/><circle cx="1048.2" cy="623.2" r="2"/><circle cx="1061.0" cy="621.8" r="2"/><circle cx="1032.9" cy="641.7" r="2"/><circle cx="1077.9" cy="607.9" r="2"/><circle cx="1065.7" cy="619.6" r="2"/><circle cx="1068.7" cy="642.1" r="2"/><circle cx="1066.7" cy="622.5" r="2"/><circle cx="1056.2" cy="631.9" r="2"/><circle cx="1064.8" cy="619.5" r="2"/><circle cx="1062.0" cy="628.9" r="2"/><circle cx="1038.9" cy="631.9" r="2"/><circle cx="1067.3" cy="628.0" r="2"/><circle cx="1053.3" cy="615.2" r="2"/><circle cx="1034.3" cy="645.3" r="2"/><circle cx="1056.0" cy="628.2" r="2"/><circle cx="1072.5" cy="616.0" r="2"/><circle cx="1062.7" cy="641.0" r="2"/><circle cx="1075.6" cy="607.6" r="2"/><circle cx="1047.9" cy="641.2" r="2"/><circle cx="1033.2" cy="612.3" r="2"/><circle cx="1040.5" cy="610.2" r="2"/><circle cx="1046.5" cy="640.0" r="2"/><circle cx="1052.0" cy="609.5" r="2"/><circle cx="1048.7" cy="648.2" r="2"/><circle cx="1051.8" cy="626.2" r="2"/><circle cx="1064.9" cy="621.4" r="2"/><circle cx="1055.9" cy="615.9" r="2"/><circle cx="1047.3" cy="620.3" r="2"/><circle cx="1047.9" cy="606.6" r="2"/><circle cx="1037.7" cy="630.1" r="2"/><circle cx="1029.5" cy="613.4" r="2"/><circle cx="1067.1" cy="617.5" r="2"/><circle cx="1044.7" cy="616.1" r="2"/><circle cx="1073.7" cy="609.7" r="2"/><circle cx="1050.3" cy="639.5" r="2"/><circle cx="1047.4" cy="607.7" r="2"/><circle cx="1051.4" cy="621.4" r="2"/><circle cx="1066.8" cy="618.4" r="2"/><circle cx="1049.4" cy="633.4" r="2"/><circle cx="1072.3" cy="620.8" r="2"/><circle cx="1048.2" cy="630.4" r="2"/><circle cx="1056.1" cy="626.9" r="2"/><circle cx="1060.0" cy="625.5" r="2"/><circle cx="1054.2" cy="627.6" r="2"/><circle cx="1073.1" cy="634.3" r="2"/><circle cx="1068.3" cy="622.9" r="2"/><circle cx="1028.6" cy="634.7" r="2"/><circle cx="1057.7" cy="638.5" r="2"/><circle cx="1033.0" cy="615.2" r="2"/><circle cx="1031.3" cy="637.9" r="2"/><circle cx="1066.7" cy="626.3" r="2"/><circle cx="1029.4" cy="635.2" r="2"/><circle cx="1050.0" cy="630.6" r="2"/><circle cx="1083.0" cy="640.6" r="2"/><circle cx="1034.5" cy="620.0" r="2"/><circle cx="1082.5" cy="617.5" r="2"/><circle cx="1041.2" cy="619.1" r="2"/><circle cx="1040.7" cy="642.4" r="2"/><circle cx="1075.5" cy="639.9" r="2"/><circle cx="1040.9" cy="614.4" r="2"/><circle cx="1029.2" cy="628.6" r="2"/><circle cx="1047.5" cy="625.6" r="2"/><circle cx="1078.5" cy="629.5" r="2"/><circle cx="1029.2" cy="619.2" r="2"/><circle cx="1056.6" cy="623.2" r="2"/><circle cx="1058.4" cy="619.6" r="2"/><circle cx="1066.6" cy="639.9" r="2"/><circle cx="1050.9" cy="633.0" r="2"/><circle cx="1060.1" cy="613.5" r="2"/><circle cx="1071.8" cy="627.0" r="2"/><circle cx="1064.6" cy="634.5" r="2"/><circle cx="1043.0" cy="614.8" r="2"/><circle cx="1073.9" cy="612.0" r="2"/><circle cx="1032.0" cy="609.8" r="2"/><circle cx="1063.7" cy="616.8" r="2"/><circle cx="1077.8" cy="635.0" r="2"/><circle cx="1035.0" cy="608.2" r="2"/><circle cx="1065.8" cy="607.6" r="2"/><circle cx="1073.8" cy="618.3" r="2"/><circle cx="1039.5" cy="630.6" r="2"/><circle cx="1044.4" cy="629.7" r="2"/><circle cx="1028.1" cy="622.0" r="2"/><circle cx="1062.7" cy="615.3" r="2"/><circle cx="1064.8" cy="610.7" r="2"/><circle cx="1073.4" cy="611.0" r="2"/><circle cx="1078.7" cy="648.2" r="2"/><circle cx="1056.2" cy="618.2" r="2"/><circle cx="1053.8" cy="642.6" r="2"/><circle cx="1034.2" cy="617.3" r="2"/><circle cx="1078.8" cy="607.2" r="2"/><circle cx="1079.9" cy="633.7" r="2"/><circle cx="1051.8" cy="616.3" r="2"/><circle cx="1068.5" cy="613.4" r="2"/><circle cx="1071.0" cy="618.5" r="2"/><circle cx="1030.2" cy="629.6" r="2"/><circle cx="1031.7" cy="629.3" r="2"/><circle cx="1071.0" cy="631.1" r="2"/><circle cx="1052.5" cy="607.2" r="2"/><circle cx="1063.0" cy="611.4" r="2"/><circle cx="1059.1" cy="620.8" r="2"/><circle cx="1047.6" cy="634.0" r="2"/><circle cx="1035.6" cy="613.0" r="2"/><circle cx="1034.7" cy="609.8" r="2"/><circle cx="1054.5" cy="628.6" r="2"/><circle cx="1032.9" cy="625.7" r="2"/></g>
<rect class="f" x="824.0" y="395.0" width="316.5" height="312.0"/>
<path class="m" d="M910.4 707.5v2.9M1053.9 707.5v2.9M823.5 398.4h-2.9M823.5 489.3h-2.9M823.5 580.5h-2.9M823.5 671.3h-2.9"/>
<text class="k" text-anchor="middle" x="910.4" y="718.9">1</text>
<text class="k" text-anchor="middle" x="1053.9" y="718.9">2</text>
<text class="k" text-anchor="end" x="818.6" y="401.5">0.10</text>
<text class="k" text-anchor="end" x="818.6" y="492.4">0.05</text>
<text class="k" text-anchor="end" x="818.6" y="583.6">0.00</text>
<text class="k" text-anchor="end" x="818.6" y="674.4">-0.05</text>
<text class="a" x="982.2" y="732.2">Severity</text>
<text class="a" transform="translate(794.0 551.0) rotate(-90)">SHAP value</text>
</g>
<g id="panel8">
<text class="t" x="1372.5" y="386.8">Dependence plot: Smoking during pregnancy</text>
<path class="g" d="M1300.6 395.0V707.0M1444.5 395.0V707.0M1214.5 413.3H1530.4M1214.5 471.4H1530.4M1214.5 529.3H1530.4M1214.5 587.3H1530.4M1214.5 645.3H1530.4M1214.5 703.3H1530.4"/>
<g class="p"><circle cx="1462.7" cy="409.0" r="2"/><circle cx="1435.8" cy="431.1" r="2"/><circle cx="1457.4" cy="435.3" r="2"/><circle cx="1435.1" cy="440.8" r="2"/><circle cx="1461.6" cy="446.1" r="2"/><circle cx="1440.1" cy="448.1" r="2"/><circle cx="1442.9" cy="449.4" r="2"/><circle cx="1450.4" cy="448.1" r="2"/><circle cx="1456.1" cy="455.4" r="2"/><circle cx="1420.1" cy="459.6" r="2"/><circle cx="1437.1" cy="459.6" r="2"/><circle cx="1439.6" cy="464.4" r="2"/><circle cx="1431.1" cy="469.2" r="2"/><circle cx="1460.6" cy="472.9" r="2"/><circle cx="1419.3" cy="478.4" r="2"/><circle cx="1443.6" cy="477.4" r="2"/><circle cx="1436.3" cy="481.7" r="2"/><circle cx="1466.9" cy="483.2" r="2"/><circle cx="1464.2" cy="485.2" r="2"/><circle cx="1451.6" cy="487.2" r="2"/><circle cx="1444.4" cy="491.2" r="2"/><circle cx="1444.9" cy="496.7" r="2"/><circle cx="1435.3" cy="508.5" r="2"/><circle cx="1460.6" cy="511.5" r="2"/><circle cx="1452.6" cy="512.5" r="2"/><circle cx="1448.9" cy="513.7" r="2"/><circle cx="1421.6" cy="514.7" r="2"/><circle cx="1417.1" cy="517.3" r="2"/><circle cx="1439.1" cy="518.8" r="2"/><circle cx="1472.2" cy="518.3" r="2"/><circle cx="1425.6" cy="524.0" r="2"/><circle cx="1455.4" cy="525.3" r="2"/><circle cx="1444.4" cy="530.3" r="2"/><circle cx="1419.3" cy="536.3" r="2"/><circle cx="1418.3" cy="539.1" r="2"/><circle cx="1421.3" cy="538.0" r="2"/><circle cx="1424.1" cy="538.8" r="2"/><circle cx="1429.6" cy="537.5" r="2"/><circle cx="1444.1" cy="536.5" r="2"/><circle cx="1448.4" cy="536.3" r="2"/><circle cx="1417.6" cy="546.8" r="2"/><circle cx="1434.1" cy="546.3" r="2"/><circle cx="1460.6" cy="544.6" r="2"/><circle cx="1464.9" cy="548.1" r="2"/><circle cx="1434.6" cy="550.8" r="2"/><circle cx="1441.6" cy="550.8" r="2"/><circle cx="1457.1" cy="549.3" r="2"/><circle cx="1455.6" cy="550.6" r="2"/><circle cx="1429.3" cy="556.1" r="2"/><circle cx="1442.9" cy="555.3" r="2"/><circle cx="1424.8" cy="560.6" r="2"/><circle cx="1449.4" cy="571.9" r="2"/><circle cx="1282.3" cy="664.8" r="2"/><circle cx="1301.5" cy="660.8" r="2"/><circle cx="1284.1" cy="661.6" r="2"/><circle cx="1284.5" cy="655.0" r="2"/><circle cx="1286.5" cy="673.0" r="2"/><circle cx="1301.2" cy="673.4" r="2"/><circle cx="1273.9" cy="674.7" r="2"/><circle cx="1300.5" cy="671.0" r="2"/><circle cx="1305.1" cy="668.5" r="2"/><circle cx="1285.9" cy="670.0" r="2"/><circle cx="1281.7" cy="658.3" r="2"/><circle cx="1274.8" cy="661.4" r="2"/><circle cx="1302.2" cy="658.9" r="2"/><circle cx="1323.1" cy="653.9" r="2"/><circle cx="1305.5" cy="657.5" r="2"/><circle cx="1306.5" cy="670.8" r="2"/><circle cx="1313.0" cy="653.4" r="2"/><circle cx="1286.8" cy="666.4" r="2"/><circle cx="1328.3" cy="652.9" r="2"/><circle cx="1307.8" cy="668.6" r="2"/><circle cx="1318.8" cy="660.2" r="2"/><circle cx="1318.6" cy="663.0" r="2"/><circle cx="1324.8" cy="652.1" r="2"/><circle cx="1325.9" cy="661.8" r="2"/><circle cx="1295.9" cy="654.0" r="2"/><circle cx="1286.8" cy="669.6" r="2"/><circle cx="1311.2" cy="655.5" r="2"/><circle cx="1292.4" cy="655.3" r="2"/><circle cx="1284.2" cy="657.2" r="2"/><circle cx="1291.6" cy="675.5" r="2"/><circle cx="1329.1" cy="671.0" r="2"/><circle cx="1300.0" cy="663.9" r="2"/><circle cx="1316.8" cy="673.8" r="2"/><circle cx="1315.3" cy="667.3" r="2"/><circle cx="1284.2" cy="667.0" r="2"/><circle cx="1320.6" cy="670.9" r="2"/><circle cx="1278.2" cy="669.2" r="2"/><circle cx="1292.7" cy="655.8" r="2"/><circle cx="1327.3" cy="668.2" r="2"/><circle cx="1314.9" cy="655.1" r="2"/><circle cx="1319.6" cy="674.5" r="2"/><circle cx="1323.9" cy="669.9" r="2"/><circle cx="1319.8" cy="671.3" r="2"/><circle cx="1306.2" cy="662.4" r="2"/><circle cx="1319.4" cy="670.9" r="2"/><circle cx="1322.0" cy="659.1" r="2"/><circle cx="1327.0" cy="664.7" r="2"/><circle cx="1326.2" cy="654.7" r="2"/><circle cx="1327.5" cy="670.9" r="2"/><circle cx="1287.2" cy="672.2" r="2"/><circle cx="1286.1" cy="656.7" r="2"/><circle cx="1298.8" cy="657.6" r="2"/><circle cx="1300.7" cy="673.8" r="2"/><circle cx="1311.5" cy="669.1" r="2"/><circle cx="1295.1" cy="670.8" r="2"/><circle cx="1317.6" cy="668.4" r="2"/><circle cx="1326.0" cy="671.9" r="2"/><circle cx="1295.9" cy="654.0" r="2"/><circle cx="1309.7" cy="672.1" r="2"/><circle cx="1292.1" cy="666.3" r="2"/><circle cx="1320.0" cy="671.1" r="2"/><circle cx="1273.3" cy="663.7" r="2"/><circle cx="1274.0" cy="654.6" r="2"/><circle cx="1318.7" cy="662.0" r="2"/><circle cx="1307.0" cy="662.9" r="2"/><circle cx="1291.9" cy="657.0" r="2"/><circle cx="1292.9" cy="672.3" r="2"/><circle cx="1307.8" cy="658.9" r="2"/><circle cx="1278.0" cy="658.4" r="2"/><circle cx="1312.4" cy="662.6" r="2"/><circle cx="1310.2" cy="671.4" r="2"/><circle cx="1279.8" cy="668.4" r="2"/><circle cx="1275.4" cy="671.8" r="2"/><circle cx="1283.4" cy="658.4" r="2"/><circle cx="1326.9" cy="660.6" r="2"/><circle cx="1285.6" cy="673.4" r="2"/><circle cx="1307.3" cy="673.5" r="2"/><circle cx="1295.2" cy="664.0" r="2"/><circle cx="1326.7" cy="664.1" r="2"/><circle cx="1328.6" cy="656.5" r="2"/><circle cx="1319.7" cy="655.8" r="2"/><circle cx="1302.7" cy="651.9" r="2"/><circle cx="1282.9" cy="674.7" r="2"/><circle cx="1298.6" cy="671.5" r="2"/><circle cx="1287.1" cy="660.4" r="2"/><circle cx="1278.7" cy="665.2" r="2"/><circle cx="1321.5" cy="664.3" r="2"/><circle cx="1294.2" cy="674.3" r="2"/><circle cx="1323.3" cy="668.0" r="2"/><circle cx="1277.3" cy="667.0" r="2"/><circle cx="1298.0" cy="675.0" r="2"/><circle cx="1293.4" cy="667.9" r="2"/><circle cx="1308.5" cy="661.0" r="2"/><circle cx="1302.4" cy="668.2" r="2"/><circle cx="1324.0" cy="663.9" r="2"/><circle cx="1293.5" cy="675.5" r="2"/><circle cx="1276.2" cy="672.1" r="2"/><circle cx="1311.4" cy="665.4" r="2"/><circle cx="1298.2" cy="670.0" r="2"/><circle cx="1323.1" cy="669.5" r="2"/><circle cx="1315.2" cy="652.7" r="2"/><circle cx="1291.3" cy="655.2" r="2"/><circle cx="1326.6" cy="673.4" r="2"/><circle cx="1281.2" cy="666.1" r="2"/><circle cx="1305.4" cy="653.0" r="2"/><circle cx="1295.1" cy="670.0" r="2"/><circle cx="1309.1" cy="658.7" r="2"/><circle cx="1315.9" cy="658.9" r="2"/><circle cx="1303.6" cy="662.1" r="2"/><circle cx="1328.0" cy="667.6" r="2"/><circle cx="1318.3" cy="668.2" r="2"/><circle cx="1294.4" cy="675.2" r="2"/><circle cx="1312.9" cy="668.6" r="2"/><circle cx="1288.6" cy="655.8" r="2"/><circle cx="1305.4" cy="671.9" r="2"/><circle cx="1317.6" cy="660.3" r="2"/><circle cx="1280.9" cy="664.4" r="2"/><circle cx="1322.3" cy="655.8" r="2"/><circle cx="1314.5" cy="656.0" r="2"/><circle cx="1290.6" cy="653.2" r="2"/><circle cx="1289.8" cy="661.1" r="2"/><circle cx="1327.4" cy="675.1" r="2"/><circle cx="1283.6" cy="659.4" r="2"/><circle cx="1326.1" cy="656.7" r="2"/><circle cx="1291.1" cy="662.5" r="2"/><circle cx="1279.1" cy="658.2" r="2"/><circle cx="1295.2" cy="661.2" r="2"/><circle cx="1327.2" cy="658.3" r="2"/><circle cx="1284.5" cy="673.9" r="2"/><circle cx="1298.3" cy="672.1" r="2"/><circle cx="1308.8" cy="670.7" r="2"/><circle cx="1290.7" cy="655.6" r="2"/><circle cx="1315.6" cy="663.3" r="2"/><circle cx="1304.4" cy="668.1" r="2"/><circle cx="1315.3" cy="658.5" r="2"/><circle cx="1293.4" cy="674.1" r="2"/><circle cx="1302.8" cy="658.9" r="2"/><circle cx="1308.4" cy="658.2" r="2"/><circle cx="1316.4" cy="652.9" r="2"/><circle cx="1319.5" cy="665.6" r="2"/><circle cx="1292.9" cy="674.6" r="2"/><circle cx="1288.0" cy="657.8" r="2"/><circle cx="1277.0" cy="665.1" r="2"/><circle cx="1315.4" cy="668.3" r="2"/><circle cx="1296.2" cy="671.4" r="2"/><circle cx="1279.3" cy="659.3" r="2"/><circle cx="1309.3" cy="675.3" r="2"/><circle cx="1308.7" cy="668.6" r="2"/><circle cx="1316.6" cy="661.4" r="2"/><circle cx="1325.9" cy="669.8" r="2"/><circle cx="1292.2" cy="661.4" r="2"/><circle cx="1318.3" cy="660.3" r="2"/><circle cx="1283.5" cy="673.0" r="2"/><circle cx="1302.9" cy="664.5" r="2"/><circle cx="1310.7" cy="673.7" r="2"/><circle cx="1280.5" cy="660.1" r="2"/><circle cx="1276.7" cy="661.9" r="2"/><circle cx="1301.3" cy="672.5" r="2"/><circle cx="1310.6" cy="665.9" r="2"/><circle cx="1295.7" cy="665.8" r="2"/><circle cx="1288.4" cy="672.3" r="2"/><circle cx="1317.3" cy="672.2" r="2"/><circle cx="1281.5" cy="668.1" r="2"/><circle cx="1315.4" cy="664.0" r="2"/><circle cx="1323.5" cy="673.6" r="2"/><circle cx="1314.8" cy="671.7" r="2"/><circle cx="1309.5" cy="673.1" r="2"/><circle cx="1280.4" cy="668.9" r="2"/><circle cx="1312.6" cy="666.7" r="2"/><circle cx="1288.5" cy="653.5" r="2"/><circle cx="1306.9" cy="671.8" r="2"/><circle cx="1288.4" cy="657.0" r="2"/><circle cx="1285.6" cy="654.2" r="2"/><circle cx="1311.0" cy="675.5" r="2"/><circle cx="1318.1" cy="660.6" r="2"/><circle cx="1312.3" cy="653.6" r="2"/><circle cx="1320.2" cy="659.7" r="2"/><circle cx="1273.2" cy="667.1" r="2"/><circle cx="1280.8" cy="658.5" r="2"/><circle cx="1276.4" cy="662.7" r="2"/><circle cx="1304.2" cy="671.4" r="2"/><circle cx="1275.3" cy="671.9" r="2"/><circle cx="1279.2" cy="657.3" r="2"/><circle cx="1308.4" cy="660.1" r="2"/><circle cx="1291.6" cy="665.6" r="2"/><circle cx="1285.3" cy="671.1" r="2"/><circle cx="1284.8" cy="672.2" r="2"/><circle cx="1318.5" cy="664.9" r="2"/><circle cx="1274.7" cy="670.7" r="2"/><circle cx="1274.6" cy="664.1" r="2"/><circle cx="1296.9" cy="653.4" r="2"/><circle cx="1308.4" cy="669.4" r="2"/><circle cx="1305.9" cy="661.6" r="2"/><circle cx="1301.8" cy="666.1" r="2"/><circle cx="1285.7" cy="672.9" r="2"/><circle cx="1329.0" cy="671.3" r="2"/><circle cx="1327.1" cy="659.8" r="2"/><circle cx="1328.5" cy="653.6" r="2"/><circle cx="1299.9" cy="655.1" r="2"/><circle cx="1298.5" cy="668.4" r="2"/><circle cx="1312.8" cy="662.9" r="2"/><circle cx="1292.2" cy="656.5" r="2"/><circle cx="1295.7" cy="658.7" r="2"/><circle cx="1283.9" cy="669.7" r="2"/><circle cx="1302.0" cy="662.5" r="2"/><circle cx="1284.1" cy="668.9" r="2"/><circle cx="1284.1" cy="658.3" r="2"/><circle cx="1304.5" cy="668.8" r="2"/><circle cx="1327.7" cy="670.0" r="2"/><circle cx="1326.3" cy="674.1" r="2"/><circle cx="1313.6" cy="669.3" r="2"/><circle cx="1276.6" cy="656.9" r="2"/><circle cx="1273.8" cy="672.8" r="2"/><circle cx="1313.6" cy="667.1" r="2"/><circle cx="1287.9" cy="660.5" r="2"/><circle cx="1282.2" cy="667.2" r="2"/><circle cx="1328.8" cy="659.3" r="2"/><circle cx="1275.5" cy="656.1" r="2"/><circle cx="1293.0" cy="673.6" r="2"/><circle cx="1318.2" cy="662.9" r="2"/><circle cx="1278.8" cy="654.5" r="2"/><circle cx="1281.7" cy="670.7" r="2"/><circle cx="1299.5" cy="675.8" r="2"/><circle cx="1324.3" cy="671.1" r="2"/><circle cx="1299.8" cy="671.8" r="2"/><circle cx="1280.2" cy="654.5" r="2"/><circle cx="1304.7" cy="664.2" r="2"/><circle cx="1284.8" cy="658.0" r="2"/><circle cx="1274.2" cy="673.9" r="2"/><circle cx="1312.9" cy="674.7" r="2"/><circle cx="1328.1" cy="662.4" r="2"/><circle cx="1314.2" cy="661.2" r="2"/><circle cx="1318.7" cy="672.2" r="2"/><circle cx="1280.6" cy="652.2" r="2"/><circle cx="1285.1" cy="666.0" r="2"/><circle cx="1294.3" cy="652.1" r="2"/><circle cx="1319.7" cy="670.9" r="2"/><circle cx="1299.1" cy="652.9" r="2"/><circle cx="1323.0" cy="664.8" r="2"/><circle cx="1277.0" cy="659.7" r="2"/><circle cx="1308.1" cy="673.3" r="2"/><circle cx="1300.3" cy="667.3" r="2"/><circle cx="1284.6" cy="657.8" r="2"/><circle cx="1323.9" cy="661.1" r="2"/><circle cx="1278.9" cy="666.2" r="2"/><circle cx="1280.1" cy="656.7" r="2"/><circle cx="1298.7" cy="666.0" r="2"/><circle cx="1308.8" cy="669.0" r="2"/><circle cx="1297.7" cy="653.5" r="2"/><circle cx="1313.7" cy="653.2" r="2"/><circle cx="1299.5" cy="661.6" r="2"/><circle cx="1310.8" cy="669.1" r="2"/><circle cx="1286.5" cy="667.6" r="2"/><circle cx="1311.9" cy="663.3" r="2"/><circle cx="1281.0" cy="673.9" r="2"/><circle cx="1306.7" cy="653.4" r="2"/><circle cx="1286.4" cy="675.7" r="2"/><circle cx="1285.9" cy="661.4" r="2"/><circle cx="1317.3" cy="671.8" r="2"/><circle cx="1308.7" cy="669.8" r="2"/><circle cx="1275.2" cy="654.1" r="2"/><circle cx="1327.9" cy="671.3" r="2"/><circle cx="1275.2" cy="653.1" r="2"/><circle cx="1286.5" cy="674.4" r="2"/><circle cx="1285.4" cy="668.1" r="2"/><circle cx="1325.3" cy="667.3" r="2"/><circle cx="1324.7" cy="658.2" r="2"/><circle cx="1281.7" cy="652.3" r="2"/><circle cx="1315.6" cy="654.4" r="2"/><circle cx="1327.7" cy="669.1" r="2"/><circle cx="1283.5" cy="671.4" r="2"/><circle cx="1282.2" cy="664.3" r="2"/><circle cx="1279.0" cy="670.9" r="2"/><circle cx="1323.0" cy="674.0" r="2"/><circle cx="1273.2" cy="672.5" r="2"/><circle cx="1304.3" cy="671.7" r="2"/><circle cx="1301.3" cy="666.9" r="2"/><circle cx="1306.4" cy="671.2" r="2"/><circle cx="1277.4" cy="653.2" r="2"/><circle cx="1303.7" cy="658.9" r="2"/><circle cx="1295.3" cy="652.1" r="2"/><circle cx="1314.9" cy="652.5" r="2"/><circle cx="1319.7" cy="671.5" r="2"/><circle cx="1298.8" cy="654.8" r="2"/><circle cx="1309.6" cy="656.9" r="2"/><circle cx="1297.1" cy="654.6" r="2"/><circle cx="1327.9" cy="665.1" r="2"/><circle cx="1292.8" cy="654.2" r="2"/><circle cx="1314.1" cy="672.4" r="2"/><circle cx="1320.7" cy="654.3" r="2"/><circle cx="1293.7" cy="659.2" r="2"/><circle cx="1315.9" cy="655.5" r="2"/><circle cx="1307.1" cy="675.5" r="2"/><circle cx="1316.2" cy="652.0" r="2"/><circle cx="1277.2" cy="654.6" r="2"/><circle cx="1311.9" cy="666.4" r="2"/><circle cx="1302.3" cy="662.9" r="2"/><circle cx="1295.9" cy="666.7" r="2"/><circle cx="1309.5" cy="674.0" r="2"/><circle cx="1314.2" cy="671.1" r="2"/><circle cx="1324.3" cy="672.1" r="2"/><circle cx="1313.3" cy="652.6" r="2"/><circle cx="1311.3" cy="672.4" r="2"/><circle cx="1297.2" cy="673.1" r="2"/><circle cx="1283.1" cy="674.7" r="2"/><circle cx="1297.9" cy="669.0" r="2"/><circle cx="1287.2" cy="659.1" r="2"/><circle cx="1292.6" cy="659.7" r="2"/><circle cx="1278.4" cy="662.6" r="2"/><circle cx="1328.2" cy="667.7" r="2"/><circle cx="1325.4" cy="670.3" r="2"/><circle cx="1320.1" cy="675.9" r="2"/><circle cx="1315.3" cy="658.5" r="2"/><circle cx="1287.1" cy="661.9" r="2"/><circle cx="1274.2" cy="657.5" r="2"/><circle cx="1322.8" cy="674.2" r="2"/><circle cx="1291.5" cy="670.5" r="2"/><circle cx="1316.6" cy="673.4" r="2"/><circle cx="1317.7" cy="664.7" r="2"/><circle cx="1278.9" cy="671.8" r="2"/><circle cx="1290.7" cy="667.0" r="2"/><circle cx="1293.7" cy="664.9" r="2"/><circle cx="1327.3" cy="655.8" r="2"/><circle cx="1302.9" cy="667.6" r="2"/><circle cx="1303.3" cy="674.6" r="2"/><circle cx="1295.9" cy="674.0" r="2"/><circle cx="1311.8" cy="675.3" r="2"/><circle cx="1278.1" cy="657.0" r="2"/><circle cx="1289.2" cy="673.8" r="2"/><circle cx="1273.8" cy="658.2" r="2"/><circle cx="1313.3" cy="675.8" r="2"/><circle cx="1282.9" cy="662.5" r="2"/><circle cx="1311.6" cy="668.6" r="2"/><circle cx="1315.0" cy="670.1" r="2"/><circle cx="1287.0" cy="658.1" r="2"/><circle cx="1274.6" cy="668.6" r="2"/><circle cx="1284.8" cy="658.2" r="2"/><circle cx="1327.2" cy="667.4" r="2"/><circle cx="1306.3" cy="667.7" r="2"/><circle cx="1306.6" cy="668.7" r="2"/><circle cx="1290.1" cy="653.4" r="2"/><circle cx="1276.8" cy="652.2" r="2"/><circle cx="1293.3" cy="655.3" r="2"/><circle cx="1279.4" cy="663.8" r="2"/><circle cx="1327.5" cy="668.5" r="2"/><circle cx="1288.4" cy="670.5" r="2"/><circle cx="1283.0" cy="654.3" r="2"/><circle cx="1290.1" cy="661.8" r="2"/><circle cx="1311.8" cy="662.6" r="2"/><circle cx="1314.0" cy="654.2" r="2"/><circle cx="1325.4" cy="660.2" r="2"/><circle cx="1319.8" cy="652.6" r="2"/><circle cx="1319.6" cy="657.4" r="2"/><circle cx="1321.1" cy="671.3" r="2"/><circle cx="1310.7" cy="658.6" r="2"/><circle cx="1273.6" cy="656.5" r="2"/><circle cx="1323.9" cy="655.7" r="2"/><circle cx="1310.1" cy="666.1" r="2"/><circle cx="1310.2" cy="656.2" r="2"/><circle cx="1281.1" cy="654.2" r="2"/><circle cx="1328.3" cy="661.1" r="2"/><circle cx="1309.7" cy="665.7" r="2"/><circle cx="1285.6" cy="653.4" r="2"/><circle cx="1273.9" cy="672.5" r="2"/><circle cx="1280.3" cy="675.2" r="2"/><circle cx="1293.5" cy="669.4" r="2"/><circle cx="1280.8" cy="670.9" r="2"/><circle cx="1287.2" cy="660.7" r="2"/><circle cx="1302.4" cy="654.6" r="2"/><circle cx="1287.0" cy="671.1" r="2"/><circle cx="1289.1" cy="661.1" r="2"/><circle cx="1316.0" cy="657.3" r="2"/><circle cx="1283.9" cy="657.2" r="2"/><circle cx="1294.6" cy="660.7" r="2"/><circle cx="1309.1" cy="663.3" r="2"/><circle cx="1321.9" cy="653.1" r="2"/><circle cx="1310.3" cy="672.1" r="2"/><circle cx="1286.2" cy="652.6" r="2"/><circle cx="1297.7" cy="654.7" r="2"/><circle cx="1298.9" cy="669.1" r="2"/><circle cx="1278.3" cy="654.7" r="2"/><circle cx="1300.0" cy="656.1" r="2"/><circle cx="1286.0" cy="662.5" r="2"/><circle cx="1279.7" cy="653.5" r="2"/><circle cx="1293.3" cy="663.2" r="2"/><circle cx="1325.7" cy="665.3" r="2"/><circle cx="1277.1" cy="657.3" r="2"/><circle cx="1314.9" cy="665.5" r="2"/><circle cx="1321.9" cy="675.2" r="2"/><circle cx="1321.2" cy="654.5" r="2"/><circle cx="1326.1" cy="664.6" r="2"/><circle cx="1286.5" cy="656.0" r="2"/><circle cx="1321.6" cy="657.0" r="2"/><circle cx="1277.7" cy="658.3" r="2"/><circle cx="1325.0" cy="663.0" r="2"/><circle cx="1314.1" cy="653.7" r="2"/><circle cx="1298.5" cy="659.6" r="2"/><circle cx="1284.6" cy="667.9" r="2"/><circle cx="1293.3" cy="654.8" r="2"/><circle cx="1328.3" cy="663.5" r="2"/><circle cx="1283.1" cy="652.1" r="2"/><circle cx="1309.7" cy="664.3" r="2"/><circle cx="1274.4" cy="663.3" r="2"/><circle cx="1314.6" cy="664.9" r="2"/><circle cx="1286.2" cy="663.9" r="2"/><circle cx="1307.0" cy="667.6" r="2"/><circle cx="1281.2" cy="671.3" r="2"/><circle cx="1326.2" cy="669.8" r="2"/><circle cx="1321.2" cy="660.8" r="2"/><circle cx="1323.8" cy="656.3" r="2"/><circle cx="1285.8" cy="666.3" r="2"/><circle cx="1323.7" cy="653.9" r="2"/><circle cx="1285.2" cy="652.7" r="2"/><circle cx="1297.7" cy="655.3" r="2"/><circle cx="1283.8" cy="670.0" r="2"/><circle cx="1305.8" cy="674.6" r="2"/><circle cx="1295.6" cy="668.3" r="2"/><circle cx="1273.7" cy="674.8" r="2"/><circle cx="1286.1" cy="663.4" r="2"/><circle cx="1301.8" cy="674.8" r="2"/><circle cx="1304.4" cy="693.3" r="2"/><circle cx="1323.7" cy="689.1" r="2"/><circle cx="1317.9" cy="684.7" r="2"/><circle cx="1300.7" cy="685.3" r="2"/><circle cx="1294.3" cy="681.8" r="2"/><circle cx="1286.6" cy="681.8" r="2"/><circle cx="1325.4" cy="681.8" r="2"/><circle cx="1326.9" cy="648.4" r="2"/><circle cx="1303.2" cy="648.4" r="2"/><circle cx="1289.2" cy="648.4" r="2"/><circle cx="1296.1" cy="649.6" r="2"/><circle cx="1280.2" cy="650.7" r="2"/><circle cx="1272.5" cy="670.3" r="2"/><circle cx="1271.9" cy="676.1" r="2"/><circle cx="1276.5" cy="678.9" r="2"/><circle cx="1307.6" cy="679.5" r="2"/><circle cx="1313.9" cy="680.1" r="2"/><circle cx="1320.2" cy="679.5" r="2"/><circle cx="1329.5" cy="653.0" r="2"/></g>
<rect class="f" x="1214.5" y="395.0" width="315.9" height="312.0"/>
<path class="m" d="M1300.6 707.5v2.9M1444.5 707.5v2.9M1214.0 413.3h-2.9M1214.0 471.4h-2.9M1214.0 529.3h-2.9M1214.0 587.3h-2.9M1214.0 645.3h-2.9M1214.0 703.3h-2.9"/>
<text class="k" text-anchor="middle" x="1300.6" y="718.9">1</text>
<text class="k" text-anchor="middle" x="1444.5" y="718.9">2</text>
<text class="k" text-anchor="end" x="1209.1" y="416.4">0.08</text>
<text class="k" text-anchor="end" x="1209.1" y="474.5">0.06</text>
<text class="k" text-anchor="end" x="1209.1" y="532.4">0.04</text>
<text class="k" text-anchor="end" x="1209.1" y="590.4">0.02</text>
<text class="k" text-anchor="end" x="1209.1" y="648.4">0.00</text>
<text class="k" text-anchor="end" x="1209.1" y="706.4">-0.02</text>
<text class="a" x="1372.5" y="732.2">Smoking during pregnancy</text>
<text class="a" transform="translate(1184.6 551.0) rotate(-90)">SHAP value</text>
</g>
</svg>
</body></html>
